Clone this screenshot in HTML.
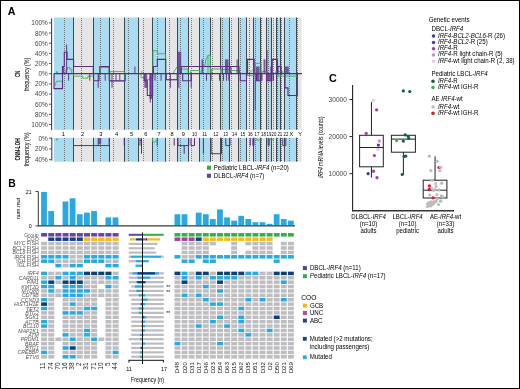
<!DOCTYPE html>
<html><head><meta charset="utf-8"><style>
html,body{margin:0;padding:0;background:#fff;}
svg{display:block;will-change:transform;}
text{font-family:"Liberation Sans", sans-serif;}
</style></head><body>
<svg width="520" height="389" viewBox="0 0 520 389" font-family='"Liberation Sans", sans-serif'>
<rect width="520" height="389" fill="#fff"/>
<text x="7.70" y="14.60" font-size="10.7" fill="#000" font-weight="bold">A</text>
<rect x="54.00" y="17.50" width="19.92" height="112.30" fill="#a9dbf1"/>
<rect x="73.92" y="17.50" width="19.44" height="112.30" fill="#e5e5e5"/>
<rect x="93.37" y="17.50" width="15.84" height="112.30" fill="#a9dbf1"/>
<rect x="109.21" y="17.50" width="15.28" height="112.30" fill="#e5e5e5"/>
<rect x="124.50" y="17.50" width="14.48" height="112.30" fill="#a9dbf1"/>
<rect x="138.98" y="17.50" width="13.68" height="112.30" fill="#e5e5e5"/>
<rect x="152.66" y="17.50" width="12.72" height="112.30" fill="#a9dbf1"/>
<rect x="165.39" y="17.50" width="11.68" height="112.30" fill="#e5e5e5"/>
<rect x="177.07" y="17.50" width="11.28" height="112.30" fill="#a9dbf1"/>
<rect x="188.35" y="17.50" width="10.88" height="112.30" fill="#e5e5e5"/>
<rect x="199.24" y="17.50" width="10.80" height="112.30" fill="#a9dbf1"/>
<rect x="210.04" y="17.50" width="10.72" height="112.30" fill="#e5e5e5"/>
<rect x="220.76" y="17.50" width="9.20" height="112.30" fill="#a9dbf1"/>
<rect x="229.96" y="17.50" width="8.56" height="112.30" fill="#e5e5e5"/>
<rect x="238.52" y="17.50" width="8.24" height="112.30" fill="#a9dbf1"/>
<rect x="246.77" y="17.50" width="7.20" height="112.30" fill="#e5e5e5"/>
<rect x="253.97" y="17.50" width="6.48" height="112.30" fill="#a9dbf1"/>
<rect x="260.45" y="17.50" width="6.24" height="112.30" fill="#e5e5e5"/>
<rect x="266.69" y="17.50" width="4.72" height="112.30" fill="#a9dbf1"/>
<rect x="271.41" y="17.50" width="5.04" height="112.30" fill="#e5e5e5"/>
<rect x="276.45" y="17.50" width="3.84" height="112.30" fill="#a9dbf1"/>
<rect x="280.29" y="17.50" width="4.08" height="112.30" fill="#e5e5e5"/>
<rect x="284.38" y="17.50" width="12.40" height="112.30" fill="#a9dbf1"/>
<rect x="296.78" y="17.50" width="4.72" height="112.30" fill="#e5e5e5"/>
<line x1="64.50" y1="18.00" x2="64.50" y2="129.80" stroke="#5a5a5a" stroke-width="0.8" stroke-dasharray="1 1"/>
<line x1="81.50" y1="18.00" x2="81.50" y2="129.80" stroke="#5a5a5a" stroke-width="0.8" stroke-dasharray="1 1"/>
<line x1="100.50" y1="18.00" x2="100.50" y2="129.80" stroke="#5a5a5a" stroke-width="0.8" stroke-dasharray="1 1"/>
<line x1="113.50" y1="18.00" x2="113.50" y2="129.80" stroke="#5a5a5a" stroke-width="0.8" stroke-dasharray="1 1"/>
<line x1="128.50" y1="18.00" x2="128.50" y2="129.80" stroke="#5a5a5a" stroke-width="0.8" stroke-dasharray="1 1"/>
<line x1="143.50" y1="18.00" x2="143.50" y2="129.80" stroke="#5a5a5a" stroke-width="0.8" stroke-dasharray="1 1"/>
<line x1="157.50" y1="18.00" x2="157.50" y2="129.80" stroke="#5a5a5a" stroke-width="0.8" stroke-dasharray="1 1"/>
<line x1="169.50" y1="18.00" x2="169.50" y2="129.80" stroke="#5a5a5a" stroke-width="0.8" stroke-dasharray="1 1"/>
<line x1="180.50" y1="18.00" x2="180.50" y2="129.80" stroke="#5a5a5a" stroke-width="0.8" stroke-dasharray="1 1"/>
<line x1="191.50" y1="18.00" x2="191.50" y2="129.80" stroke="#5a5a5a" stroke-width="0.8" stroke-dasharray="1 1"/>
<line x1="203.50" y1="18.00" x2="203.50" y2="129.80" stroke="#5a5a5a" stroke-width="0.8" stroke-dasharray="1 1"/>
<line x1="212.50" y1="18.00" x2="212.50" y2="129.80" stroke="#5a5a5a" stroke-width="0.8" stroke-dasharray="1 1"/>
<line x1="222.50" y1="18.00" x2="222.50" y2="129.80" stroke="#5a5a5a" stroke-width="0.8" stroke-dasharray="1 1"/>
<line x1="231.50" y1="18.00" x2="231.50" y2="129.80" stroke="#5a5a5a" stroke-width="0.8" stroke-dasharray="1 1"/>
<line x1="240.50" y1="18.00" x2="240.50" y2="129.80" stroke="#5a5a5a" stroke-width="0.8" stroke-dasharray="1 1"/>
<line x1="249.50" y1="18.00" x2="249.50" y2="129.80" stroke="#5a5a5a" stroke-width="0.8" stroke-dasharray="1 1"/>
<line x1="255.50" y1="18.00" x2="255.50" y2="129.80" stroke="#5a5a5a" stroke-width="0.8" stroke-dasharray="1 1"/>
<line x1="261.50" y1="18.00" x2="261.50" y2="129.80" stroke="#5a5a5a" stroke-width="0.8" stroke-dasharray="1 1"/>
<line x1="268.50" y1="18.00" x2="268.50" y2="129.80" stroke="#5a5a5a" stroke-width="0.8" stroke-dasharray="1 1"/>
<line x1="273.50" y1="18.00" x2="273.50" y2="129.80" stroke="#5a5a5a" stroke-width="0.8" stroke-dasharray="1 1"/>
<line x1="277.50" y1="18.00" x2="277.50" y2="129.80" stroke="#5a5a5a" stroke-width="0.8" stroke-dasharray="1 1"/>
<line x1="281.50" y1="18.00" x2="281.50" y2="129.80" stroke="#5a5a5a" stroke-width="0.8" stroke-dasharray="1 1"/>
<line x1="289.50" y1="18.00" x2="289.50" y2="129.80" stroke="#5a5a5a" stroke-width="0.8" stroke-dasharray="1 1"/>
<line x1="297.50" y1="18.00" x2="297.50" y2="129.80" stroke="#5a5a5a" stroke-width="0.8" stroke-dasharray="1 1"/>
<line x1="73.50" y1="17.50" x2="73.50" y2="129.80" stroke="#3e4850" stroke-width="1.0"/>
<line x1="93.50" y1="17.50" x2="93.50" y2="129.80" stroke="#3e4850" stroke-width="1.0"/>
<line x1="109.50" y1="17.50" x2="109.50" y2="129.80" stroke="#3e4850" stroke-width="1.0"/>
<line x1="124.50" y1="17.50" x2="124.50" y2="129.80" stroke="#3e4850" stroke-width="1.0"/>
<line x1="138.50" y1="17.50" x2="138.50" y2="129.80" stroke="#3e4850" stroke-width="1.0"/>
<line x1="152.50" y1="17.50" x2="152.50" y2="129.80" stroke="#3e4850" stroke-width="1.0"/>
<line x1="165.50" y1="17.50" x2="165.50" y2="129.80" stroke="#3e4850" stroke-width="1.0"/>
<line x1="177.50" y1="17.50" x2="177.50" y2="129.80" stroke="#3e4850" stroke-width="1.0"/>
<line x1="188.50" y1="17.50" x2="188.50" y2="129.80" stroke="#3e4850" stroke-width="1.0"/>
<line x1="199.50" y1="17.50" x2="199.50" y2="129.80" stroke="#3e4850" stroke-width="1.0"/>
<line x1="210.50" y1="17.50" x2="210.50" y2="129.80" stroke="#3e4850" stroke-width="1.0"/>
<line x1="220.50" y1="17.50" x2="220.50" y2="129.80" stroke="#3e4850" stroke-width="1.0"/>
<line x1="229.50" y1="17.50" x2="229.50" y2="129.80" stroke="#3e4850" stroke-width="1.0"/>
<line x1="238.50" y1="17.50" x2="238.50" y2="129.80" stroke="#3e4850" stroke-width="1.0"/>
<line x1="246.50" y1="17.50" x2="246.50" y2="129.80" stroke="#3e4850" stroke-width="1.0"/>
<line x1="253.50" y1="17.50" x2="253.50" y2="129.80" stroke="#3e4850" stroke-width="1.0"/>
<line x1="260.50" y1="17.50" x2="260.50" y2="129.80" stroke="#3e4850" stroke-width="1.0"/>
<line x1="266.50" y1="17.50" x2="266.50" y2="129.80" stroke="#3e4850" stroke-width="1.0"/>
<line x1="271.50" y1="17.50" x2="271.50" y2="129.80" stroke="#3e4850" stroke-width="1.0"/>
<line x1="276.50" y1="17.50" x2="276.50" y2="129.80" stroke="#3e4850" stroke-width="1.0"/>
<line x1="280.50" y1="17.50" x2="280.50" y2="129.80" stroke="#3e4850" stroke-width="1.0"/>
<line x1="284.50" y1="17.50" x2="284.50" y2="129.80" stroke="#3e4850" stroke-width="1.0"/>
<line x1="296.50" y1="17.50" x2="296.50" y2="129.80" stroke="#3e4850" stroke-width="1.0"/>
<rect x="54.00" y="137.80" width="19.92" height="23.90" fill="#a9dbf1"/>
<rect x="73.92" y="137.80" width="19.44" height="23.90" fill="#e5e5e5"/>
<rect x="93.37" y="137.80" width="15.84" height="23.90" fill="#a9dbf1"/>
<rect x="109.21" y="137.80" width="15.28" height="23.90" fill="#e5e5e5"/>
<rect x="124.50" y="137.80" width="14.48" height="23.90" fill="#a9dbf1"/>
<rect x="138.98" y="137.80" width="13.68" height="23.90" fill="#e5e5e5"/>
<rect x="152.66" y="137.80" width="12.72" height="23.90" fill="#a9dbf1"/>
<rect x="165.39" y="137.80" width="11.68" height="23.90" fill="#e5e5e5"/>
<rect x="177.07" y="137.80" width="11.28" height="23.90" fill="#a9dbf1"/>
<rect x="188.35" y="137.80" width="10.88" height="23.90" fill="#e5e5e5"/>
<rect x="199.24" y="137.80" width="10.80" height="23.90" fill="#a9dbf1"/>
<rect x="210.04" y="137.80" width="10.72" height="23.90" fill="#e5e5e5"/>
<rect x="220.76" y="137.80" width="9.20" height="23.90" fill="#a9dbf1"/>
<rect x="229.96" y="137.80" width="8.56" height="23.90" fill="#e5e5e5"/>
<rect x="238.52" y="137.80" width="8.24" height="23.90" fill="#a9dbf1"/>
<rect x="246.77" y="137.80" width="7.20" height="23.90" fill="#e5e5e5"/>
<rect x="253.97" y="137.80" width="6.48" height="23.90" fill="#a9dbf1"/>
<rect x="260.45" y="137.80" width="6.24" height="23.90" fill="#e5e5e5"/>
<rect x="266.69" y="137.80" width="4.72" height="23.90" fill="#a9dbf1"/>
<rect x="271.41" y="137.80" width="5.04" height="23.90" fill="#e5e5e5"/>
<rect x="276.45" y="137.80" width="3.84" height="23.90" fill="#a9dbf1"/>
<rect x="280.29" y="137.80" width="4.08" height="23.90" fill="#e5e5e5"/>
<rect x="284.38" y="137.80" width="12.40" height="23.90" fill="#a9dbf1"/>
<rect x="296.78" y="137.80" width="4.72" height="23.90" fill="#e5e5e5"/>
<line x1="64.50" y1="138.00" x2="64.50" y2="161.70" stroke="#5a5a5a" stroke-width="0.8" stroke-dasharray="1 1"/>
<line x1="81.50" y1="138.00" x2="81.50" y2="161.70" stroke="#5a5a5a" stroke-width="0.8" stroke-dasharray="1 1"/>
<line x1="100.50" y1="138.00" x2="100.50" y2="161.70" stroke="#5a5a5a" stroke-width="0.8" stroke-dasharray="1 1"/>
<line x1="113.50" y1="138.00" x2="113.50" y2="161.70" stroke="#5a5a5a" stroke-width="0.8" stroke-dasharray="1 1"/>
<line x1="128.50" y1="138.00" x2="128.50" y2="161.70" stroke="#5a5a5a" stroke-width="0.8" stroke-dasharray="1 1"/>
<line x1="143.50" y1="138.00" x2="143.50" y2="161.70" stroke="#5a5a5a" stroke-width="0.8" stroke-dasharray="1 1"/>
<line x1="157.50" y1="138.00" x2="157.50" y2="161.70" stroke="#5a5a5a" stroke-width="0.8" stroke-dasharray="1 1"/>
<line x1="169.50" y1="138.00" x2="169.50" y2="161.70" stroke="#5a5a5a" stroke-width="0.8" stroke-dasharray="1 1"/>
<line x1="180.50" y1="138.00" x2="180.50" y2="161.70" stroke="#5a5a5a" stroke-width="0.8" stroke-dasharray="1 1"/>
<line x1="191.50" y1="138.00" x2="191.50" y2="161.70" stroke="#5a5a5a" stroke-width="0.8" stroke-dasharray="1 1"/>
<line x1="203.50" y1="138.00" x2="203.50" y2="161.70" stroke="#5a5a5a" stroke-width="0.8" stroke-dasharray="1 1"/>
<line x1="212.50" y1="138.00" x2="212.50" y2="161.70" stroke="#5a5a5a" stroke-width="0.8" stroke-dasharray="1 1"/>
<line x1="222.50" y1="138.00" x2="222.50" y2="161.70" stroke="#5a5a5a" stroke-width="0.8" stroke-dasharray="1 1"/>
<line x1="231.50" y1="138.00" x2="231.50" y2="161.70" stroke="#5a5a5a" stroke-width="0.8" stroke-dasharray="1 1"/>
<line x1="240.50" y1="138.00" x2="240.50" y2="161.70" stroke="#5a5a5a" stroke-width="0.8" stroke-dasharray="1 1"/>
<line x1="249.50" y1="138.00" x2="249.50" y2="161.70" stroke="#5a5a5a" stroke-width="0.8" stroke-dasharray="1 1"/>
<line x1="255.50" y1="138.00" x2="255.50" y2="161.70" stroke="#5a5a5a" stroke-width="0.8" stroke-dasharray="1 1"/>
<line x1="261.50" y1="138.00" x2="261.50" y2="161.70" stroke="#5a5a5a" stroke-width="0.8" stroke-dasharray="1 1"/>
<line x1="268.50" y1="138.00" x2="268.50" y2="161.70" stroke="#5a5a5a" stroke-width="0.8" stroke-dasharray="1 1"/>
<line x1="273.50" y1="138.00" x2="273.50" y2="161.70" stroke="#5a5a5a" stroke-width="0.8" stroke-dasharray="1 1"/>
<line x1="277.50" y1="138.00" x2="277.50" y2="161.70" stroke="#5a5a5a" stroke-width="0.8" stroke-dasharray="1 1"/>
<line x1="281.50" y1="138.00" x2="281.50" y2="161.70" stroke="#5a5a5a" stroke-width="0.8" stroke-dasharray="1 1"/>
<line x1="289.50" y1="138.00" x2="289.50" y2="161.70" stroke="#5a5a5a" stroke-width="0.8" stroke-dasharray="1 1"/>
<line x1="297.50" y1="138.00" x2="297.50" y2="161.70" stroke="#5a5a5a" stroke-width="0.8" stroke-dasharray="1 1"/>
<line x1="73.50" y1="137.80" x2="73.50" y2="161.70" stroke="#3e4850" stroke-width="1.0"/>
<line x1="93.50" y1="137.80" x2="93.50" y2="161.70" stroke="#3e4850" stroke-width="1.0"/>
<line x1="109.50" y1="137.80" x2="109.50" y2="161.70" stroke="#3e4850" stroke-width="1.0"/>
<line x1="124.50" y1="137.80" x2="124.50" y2="161.70" stroke="#3e4850" stroke-width="1.0"/>
<line x1="138.50" y1="137.80" x2="138.50" y2="161.70" stroke="#3e4850" stroke-width="1.0"/>
<line x1="152.50" y1="137.80" x2="152.50" y2="161.70" stroke="#3e4850" stroke-width="1.0"/>
<line x1="165.50" y1="137.80" x2="165.50" y2="161.70" stroke="#3e4850" stroke-width="1.0"/>
<line x1="177.50" y1="137.80" x2="177.50" y2="161.70" stroke="#3e4850" stroke-width="1.0"/>
<line x1="188.50" y1="137.80" x2="188.50" y2="161.70" stroke="#3e4850" stroke-width="1.0"/>
<line x1="199.50" y1="137.80" x2="199.50" y2="161.70" stroke="#3e4850" stroke-width="1.0"/>
<line x1="210.50" y1="137.80" x2="210.50" y2="161.70" stroke="#3e4850" stroke-width="1.0"/>
<line x1="220.50" y1="137.80" x2="220.50" y2="161.70" stroke="#3e4850" stroke-width="1.0"/>
<line x1="229.50" y1="137.80" x2="229.50" y2="161.70" stroke="#3e4850" stroke-width="1.0"/>
<line x1="238.50" y1="137.80" x2="238.50" y2="161.70" stroke="#3e4850" stroke-width="1.0"/>
<line x1="246.50" y1="137.80" x2="246.50" y2="161.70" stroke="#3e4850" stroke-width="1.0"/>
<line x1="253.50" y1="137.80" x2="253.50" y2="161.70" stroke="#3e4850" stroke-width="1.0"/>
<line x1="260.50" y1="137.80" x2="260.50" y2="161.70" stroke="#3e4850" stroke-width="1.0"/>
<line x1="266.50" y1="137.80" x2="266.50" y2="161.70" stroke="#3e4850" stroke-width="1.0"/>
<line x1="271.50" y1="137.80" x2="271.50" y2="161.70" stroke="#3e4850" stroke-width="1.0"/>
<line x1="276.50" y1="137.80" x2="276.50" y2="161.70" stroke="#3e4850" stroke-width="1.0"/>
<line x1="280.50" y1="137.80" x2="280.50" y2="161.70" stroke="#3e4850" stroke-width="1.0"/>
<line x1="284.50" y1="137.80" x2="284.50" y2="161.70" stroke="#3e4850" stroke-width="1.0"/>
<line x1="296.50" y1="137.80" x2="296.50" y2="161.70" stroke="#3e4850" stroke-width="1.0"/>
<line x1="51.60" y1="18.40" x2="51.60" y2="130.20" stroke="#444" stroke-width="1.1"/>
<line x1="49.00" y1="22.90" x2="51.60" y2="22.90" stroke="#444" stroke-width="0.9"/>
<text x="47.70" y="25.35" font-size="6.4" text-anchor="end" fill="#444">100%</text>
<line x1="49.00" y1="33.06" x2="51.60" y2="33.06" stroke="#444" stroke-width="0.9"/>
<text x="47.70" y="35.51" font-size="6.4" text-anchor="end" fill="#444">80%</text>
<line x1="49.00" y1="43.22" x2="51.60" y2="43.22" stroke="#444" stroke-width="0.9"/>
<text x="47.70" y="45.67" font-size="6.4" text-anchor="end" fill="#444">60%</text>
<line x1="49.00" y1="53.38" x2="51.60" y2="53.38" stroke="#444" stroke-width="0.9"/>
<text x="47.70" y="55.83" font-size="6.4" text-anchor="end" fill="#444">40%</text>
<line x1="49.00" y1="63.54" x2="51.60" y2="63.54" stroke="#444" stroke-width="0.9"/>
<text x="47.70" y="65.99" font-size="6.4" text-anchor="end" fill="#444">20%</text>
<line x1="49.00" y1="73.70" x2="51.60" y2="73.70" stroke="#444" stroke-width="0.9"/>
<text x="47.70" y="76.15" font-size="6.4" text-anchor="end" fill="#444">0%</text>
<line x1="49.00" y1="83.86" x2="51.60" y2="83.86" stroke="#444" stroke-width="0.9"/>
<text x="47.70" y="86.31" font-size="6.4" text-anchor="end" fill="#444">20%</text>
<line x1="49.00" y1="94.02" x2="51.60" y2="94.02" stroke="#444" stroke-width="0.9"/>
<text x="47.70" y="96.47" font-size="6.4" text-anchor="end" fill="#444">40%</text>
<line x1="49.00" y1="104.18" x2="51.60" y2="104.18" stroke="#444" stroke-width="0.9"/>
<text x="47.70" y="106.63" font-size="6.4" text-anchor="end" fill="#444">60%</text>
<line x1="49.00" y1="114.34" x2="51.60" y2="114.34" stroke="#444" stroke-width="0.9"/>
<text x="47.70" y="116.79" font-size="6.4" text-anchor="end" fill="#444">80%</text>
<line x1="49.00" y1="124.50" x2="51.60" y2="124.50" stroke="#444" stroke-width="0.9"/>
<text x="47.70" y="126.95" font-size="6.4" text-anchor="end" fill="#444">100%</text>
<line x1="51.80" y1="137.60" x2="51.80" y2="160.60" stroke="#444" stroke-width="1.1"/>
<line x1="49.00" y1="138.20" x2="51.80" y2="138.20" stroke="#444" stroke-width="0.9"/>
<text x="47.70" y="140.65" font-size="6.4" text-anchor="end" fill="#444">0%</text>
<line x1="49.00" y1="148.95" x2="51.80" y2="148.95" stroke="#444" stroke-width="0.9"/>
<text x="47.70" y="151.40" font-size="6.4" text-anchor="end" fill="#444">20%</text>
<line x1="49.00" y1="159.70" x2="51.80" y2="159.70" stroke="#444" stroke-width="0.9"/>
<text x="47.70" y="162.15" font-size="6.4" text-anchor="end" fill="#444">40%</text>
<text x="20.10" y="74.00" font-size="7.6" text-anchor="middle" font-weight="bold" textLength="6.1" lengthAdjust="spacingAndGlyphs" transform="rotate(-90 20.10 74.00)">CN</text>
<text x="29.20" y="74.30" font-size="6.6" text-anchor="middle" textLength="33.4" lengthAdjust="spacingAndGlyphs" transform="rotate(-90 29.20 74.30)">frequency (%)</text>
<text x="19.80" y="149.35" font-size="7.4" text-anchor="middle" font-weight="bold" textLength="22.1" lengthAdjust="spacingAndGlyphs" transform="rotate(-90 19.80 149.35)">CNN-LOH</text>
<text x="29.20" y="149.40" font-size="6.6" text-anchor="middle" textLength="33.8" lengthAdjust="spacingAndGlyphs" transform="rotate(-90 29.20 149.40)">frequency (%)</text>
<text x="63.25" y="136.20" font-size="5.6" text-anchor="middle">1</text>
<text x="82.50" y="136.20" font-size="5.6" text-anchor="middle">2</text>
<text x="100.75" y="136.20" font-size="5.6" text-anchor="middle">3</text>
<text x="116.50" y="136.20" font-size="5.6" text-anchor="middle">4</text>
<text x="131.50" y="136.20" font-size="5.6" text-anchor="middle">5</text>
<text x="145.75" y="136.20" font-size="5.6" text-anchor="middle">6</text>
<text x="159.00" y="136.20" font-size="5.6" text-anchor="middle">7</text>
<text x="172.00" y="136.20" font-size="5.6" text-anchor="middle">8</text>
<text x="183.40" y="136.20" font-size="5.6" text-anchor="middle">9</text>
<text x="194.50" y="136.20" font-size="5.6" text-anchor="middle" textLength="4.8" lengthAdjust="spacingAndGlyphs">10</text>
<text x="204.60" y="136.20" font-size="5.6" text-anchor="middle" textLength="4.8" lengthAdjust="spacingAndGlyphs">11</text>
<text x="216.00" y="136.20" font-size="5.6" text-anchor="middle" textLength="4.8" lengthAdjust="spacingAndGlyphs">12</text>
<text x="225.60" y="136.20" font-size="5.6" text-anchor="middle" textLength="4.8" lengthAdjust="spacingAndGlyphs">13</text>
<text x="234.40" y="136.20" font-size="5.6" text-anchor="middle" textLength="4.8" lengthAdjust="spacingAndGlyphs">14</text>
<text x="242.80" y="136.20" font-size="5.6" text-anchor="middle" textLength="4.8" lengthAdjust="spacingAndGlyphs">15</text>
<text x="250.30" y="136.20" font-size="5.6" text-anchor="middle" textLength="4.8" lengthAdjust="spacingAndGlyphs">16</text>
<text x="257.00" y="136.20" font-size="5.6" text-anchor="middle" textLength="4.8" lengthAdjust="spacingAndGlyphs">17</text>
<text x="263.50" y="136.20" font-size="5.6" text-anchor="middle" textLength="4.8" lengthAdjust="spacingAndGlyphs">18</text>
<text x="268.90" y="136.20" font-size="5.6" text-anchor="middle" textLength="4.8" lengthAdjust="spacingAndGlyphs">19</text>
<text x="274.00" y="136.20" font-size="5.6" text-anchor="middle" textLength="4.8" lengthAdjust="spacingAndGlyphs">20</text>
<text x="279.80" y="136.20" font-size="5.6" text-anchor="middle" textLength="4.8" lengthAdjust="spacingAndGlyphs">21</text>
<text x="286.00" y="136.20" font-size="5.6" text-anchor="middle" textLength="4.8" lengthAdjust="spacingAndGlyphs">22</text>
<text x="291.40" y="136.20" font-size="5.6" text-anchor="middle">X</text>
<text x="300.10" y="136.20" font-size="5.6" text-anchor="middle">Y</text>
<path d="M65.90,73.60 L65.90,69.53 L67.50,69.53 L67.50,67.50 L69.50,67.50 L69.50,69.02 L71.70,69.02 L71.70,73.60 M100.50,73.60 L100.50,67.50 L109.00,67.50 L109.00,73.60 M109.80,73.60 L109.80,71.57 L124.40,71.57 L124.40,73.60 M153.00,73.60 L153.00,50.72 L157.30,50.72 L157.30,53.77 L165.70,53.77 L165.70,73.60 M181.20,73.60 L181.20,69.02 L188.00,69.02 L188.00,73.60 M190.50,73.60 L190.50,70.55 L200.00,70.55 L200.00,73.60 M208.00,73.60 L208.00,55.29 L210.30,55.29 L210.30,73.60 M211.50,73.60 L211.50,69.02 L220.50,69.02 L220.50,73.60 M221.00,73.60 L221.00,69.53 L230.00,69.53 L230.00,73.60 M230.50,73.60 L230.50,70.55 L239.50,70.55 L239.50,73.60 M255.50,73.60 L255.50,63.43 L261.10,63.43 L261.10,73.60 M262.00,73.60 L262.00,71.57 L267.30,71.57 L267.30,73.60 M275.80,73.60 L275.80,71.57 L282.70,71.57 L282.70,73.60" fill="none" stroke="#3db54a" stroke-width="0.9" stroke-linejoin="miter"/>
<path d="M172.7,73.60 L177.3,66.48 L181.2,66.48" fill="none" stroke="#3db54a" stroke-width="0.9"/>
<path d="M201.9,71.57 L203.4,65.46 L204.9,65.46 L205.7,59.87 L208,55.29" fill="none" stroke="#3db54a" stroke-width="0.9"/>
<path d="M249.6,72.58 L251,71.57 L253.5,69.02 L254.5,69.02" fill="none" stroke="#3db54a" stroke-width="0.9"/>
<line x1="56.60" y1="73.60" x2="56.60" y2="71.06" stroke="#3db54a" stroke-width="0.9"/>
<line x1="141.90" y1="73.60" x2="141.90" y2="71.06" stroke="#3db54a" stroke-width="0.9"/>
<line x1="57.50" y1="73.60" x2="57.50" y2="71.57" stroke="#3db54a" stroke-width="0.9"/>
<path d="M54.6,86.31 L56.6,81.23 L62.5,81.23 L62.5,73.60" fill="none" stroke="#3db54a" stroke-width="0.9"/>
<path d="M73.60,73.60 L73.60,76.14 L82.80,76.14 L82.80,78.18 L88.00,78.18 L88.00,76.14 L93.30,76.14 L93.30,73.60 M109.80,73.60 L109.80,81.23 L124.40,81.23 L124.40,73.60 M141.00,73.60 L141.00,77.67 L144.20,77.67 L144.20,79.70 L149.50,79.70 L149.50,77.67 L153.00,77.67 L153.00,73.60 M166.20,73.60 L166.20,79.70 L177.30,79.70 L177.30,73.60 M247.30,73.60 L247.30,75.63 L254.20,75.63 L254.20,73.60 M278.00,73.60 L278.00,76.14 L297.30,76.14 L297.30,73.60" fill="none" stroke="#3db54a" stroke-width="0.9" stroke-linejoin="miter"/>
<path d="M62.50,73.60 L62.50,66.48 L64.30,66.48 L64.30,52.24 L67.10,52.24 L67.10,59.36 L73.60,59.36 L73.60,66.48 L93.30,66.48 L93.30,73.60 M99.80,73.60 L99.80,66.48 L109.30,66.48 L109.30,73.60 M153.40,73.60 L153.40,66.48 L157.30,66.48 L157.30,59.36 L165.70,59.36 L165.70,73.60 M181.20,73.60 L181.20,66.48 L239.00,66.48 L239.00,73.60 M247.60,73.60 L247.60,59.36 L254.20,59.36 L254.20,73.60 M272.20,73.60 L272.20,59.36 L277.30,59.36 L277.30,73.60 M278.00,73.60 L278.00,66.48 L281.10,66.48 L281.10,73.60" fill="none" stroke="#5e2a84" stroke-width="1.1" stroke-linejoin="miter"/>
<line x1="66.60" y1="73.60" x2="66.60" y2="44.62" stroke="#5e2a84" stroke-width="0.9"/>
<line x1="134.90" y1="73.60" x2="134.90" y2="66.48" stroke="#5e2a84" stroke-width="0.9"/>
<line x1="267.00" y1="73.60" x2="267.00" y2="50.21" stroke="#5e2a84" stroke-width="0.9"/>
<line x1="222.30" y1="73.60" x2="222.30" y2="66.48" stroke="#5e2a84" stroke-width="0.9"/>
<line x1="229.80" y1="73.60" x2="229.80" y2="66.48" stroke="#5e2a84" stroke-width="0.9"/>
<line x1="230.90" y1="73.60" x2="230.90" y2="66.48" stroke="#5e2a84" stroke-width="0.9"/>
<rect x="62.60" y="66.48" width="1.60" height="7.12" fill="#5e2a84" fill-opacity="0.75"/>
<rect x="177.30" y="51.73" width="3.90" height="21.87" fill="#5e2a84" fill-opacity="0.75"/>
<rect x="201.50" y="59.36" width="1.70" height="14.24" fill="#5e2a84" fill-opacity="0.75"/>
<rect x="225.00" y="59.36" width="3.50" height="14.24" fill="#5e2a84" fill-opacity="0.75"/>
<rect x="236.50" y="59.36" width="1.30" height="14.24" fill="#5e2a84" fill-opacity="0.75"/>
<rect x="256.00" y="66.48" width="3.60" height="7.12" fill="#5e2a84" fill-opacity="0.75"/>
<rect x="263.50" y="59.36" width="2.00" height="14.24" fill="#5e2a84" fill-opacity="0.75"/>
<rect x="270.30" y="66.48" width="1.70" height="7.12" fill="#5e2a84" fill-opacity="0.75"/>
<rect x="285.00" y="66.48" width="3.80" height="7.12" fill="#5e2a84" fill-opacity="0.75"/>
<path d="M54.00,73.60 L54.00,88.60 L62.50,88.60 L62.50,73.60 M93.60,73.60 L93.60,80.72 L99.00,80.72 L99.00,73.60 M109.30,73.60 L109.30,80.72 L125.20,80.72 L125.20,73.60 M144.20,73.60 L144.20,80.72 L147.30,80.72 L147.30,95.47 L152.60,95.47 L152.60,73.60 M166.20,73.60 L166.20,79.70 L177.30,79.70 L177.30,73.60 M182.70,73.60 L182.70,80.72 L191.20,80.72 L191.20,73.60 M240.30,73.60 L240.30,80.72 L246.50,80.72 L246.50,73.60 M256.50,73.60 L256.50,80.72 L261.10,80.72 L261.10,73.60 M266.50,73.60 L266.50,80.72 L272.00,80.72 L272.00,73.60 M285.00,73.60 L285.00,87.84 L288.00,87.84 L288.00,95.47 L297.30,95.47 L297.30,73.60" fill="none" stroke="#5e2a84" stroke-width="1.1" stroke-linejoin="miter"/>
<line x1="68.60" y1="73.60" x2="68.60" y2="80.72" stroke="#5e2a84" stroke-width="0.9"/>
<line x1="89.80" y1="73.60" x2="89.80" y2="80.72" stroke="#5e2a84" stroke-width="0.9"/>
<line x1="98.20" y1="73.60" x2="98.20" y2="87.84" stroke="#5e2a84" stroke-width="0.9"/>
<line x1="105.20" y1="73.60" x2="105.20" y2="80.72" stroke="#5e2a84" stroke-width="0.9"/>
<line x1="112.00" y1="73.60" x2="112.00" y2="87.84" stroke="#5e2a84" stroke-width="0.9"/>
<line x1="116.00" y1="73.60" x2="116.00" y2="80.72" stroke="#5e2a84" stroke-width="0.9"/>
<line x1="119.80" y1="73.60" x2="119.80" y2="80.72" stroke="#5e2a84" stroke-width="0.9"/>
<line x1="150.30" y1="73.60" x2="150.30" y2="102.58" stroke="#5e2a84" stroke-width="0.9"/>
<line x1="155.00" y1="73.60" x2="155.00" y2="80.72" stroke="#5e2a84" stroke-width="0.9"/>
<line x1="161.10" y1="73.60" x2="161.10" y2="80.72" stroke="#5e2a84" stroke-width="0.9"/>
<line x1="170.40" y1="73.60" x2="170.40" y2="87.84" stroke="#5e2a84" stroke-width="0.9"/>
<line x1="178.80" y1="73.60" x2="178.80" y2="87.84" stroke="#5e2a84" stroke-width="0.9"/>
<line x1="191.20" y1="73.60" x2="191.20" y2="87.84" stroke="#5e2a84" stroke-width="0.9"/>
<line x1="206.50" y1="73.60" x2="206.50" y2="80.72" stroke="#5e2a84" stroke-width="0.9"/>
<line x1="211.00" y1="73.60" x2="211.00" y2="80.72" stroke="#5e2a84" stroke-width="0.9"/>
<line x1="219.50" y1="73.60" x2="219.50" y2="80.72" stroke="#5e2a84" stroke-width="0.9"/>
<line x1="223.50" y1="73.60" x2="223.50" y2="80.72" stroke="#5e2a84" stroke-width="0.9"/>
<line x1="226.50" y1="73.60" x2="226.50" y2="80.72" stroke="#5e2a84" stroke-width="0.9"/>
<line x1="228.80" y1="73.60" x2="228.80" y2="80.72" stroke="#5e2a84" stroke-width="0.9"/>
<line x1="246.50" y1="73.60" x2="246.50" y2="87.84" stroke="#5e2a84" stroke-width="0.9"/>
<line x1="255.20" y1="73.60" x2="255.20" y2="110.21" stroke="#5e2a84" stroke-width="0.9"/>
<line x1="262.00" y1="73.60" x2="262.00" y2="80.72" stroke="#5e2a84" stroke-width="0.9"/>
<line x1="273.50" y1="73.60" x2="273.50" y2="80.72" stroke="#5e2a84" stroke-width="0.9"/>
<line x1="276.50" y1="73.60" x2="276.50" y2="80.72" stroke="#5e2a84" stroke-width="0.9"/>
<rect x="144.30" y="73.60" width="2.90" height="14.24" fill="#5e2a84" fill-opacity="0.75"/>
<rect x="149.50" y="73.60" width="2.80" height="25.42" fill="#5e2a84" fill-opacity="0.75"/>
<rect x="256.00" y="73.60" width="3.60" height="7.12" fill="#5e2a84" fill-opacity="0.75"/>
<rect x="266.60" y="73.60" width="4.90" height="7.12" fill="#5e2a84" fill-opacity="0.75"/>
<line x1="53.80" y1="73.60" x2="302.00" y2="73.60" stroke="#5e2a84" stroke-width="1.1"/>
<path d="M73.50,138.20 L73.50,145.60 L109.20,145.60 L109.20,138.20" fill="none" stroke="#5e2a84" stroke-width="1.0"/>
<path d="M93.50,138.20 L93.50,145.60" fill="none" stroke="#5e2a84" stroke-width="1.0"/>
<path d="M98.20,138.20 L98.20,145.60" fill="none" stroke="#5e2a84" stroke-width="1.0"/>
<rect x="98.40" y="138.20" width="2.80" height="5.80" fill="#5e2a84" fill-opacity="0.75"/>
<path d="M124.30,138.20 L124.30,145.60" fill="none" stroke="#5e2a84" stroke-width="1.2"/>
<path d="M140.00,138.20 L140.00,145.60" fill="none" stroke="#5e2a84" stroke-width="1.0"/>
<path d="M140.00,140.50 L141.50,140.50" fill="none" stroke="#5e2a84" stroke-width="1.0"/>
<path d="M141.50,138.20 L141.50,153.70" fill="none" stroke="#5e2a84" stroke-width="1.0"/>
<path d="M152.60,138.20 L152.60,141.00 L154.00,142.50 L156.50,140.50" fill="none" stroke="#3db54a" stroke-width="0.9"/>
<path d="M157.20,138.20 L157.20,145.60" fill="none" stroke="#5e2a84" stroke-width="1.0"/>
<path d="M174.20,138.20 L174.20,145.60" fill="none" stroke="#5e2a84" stroke-width="1.0"/>
<path d="M178.00,138.20 L178.00,145.60 L188.80,145.60 L188.80,138.20" fill="none" stroke="#5e2a84" stroke-width="1.0"/>
<path d="M184.20,145.60 L184.20,153.70" fill="none" stroke="#5e2a84" stroke-width="1.0"/>
<path d="M191.00,138.20 L191.00,145.60 L194.50,145.60 L194.50,138.20" fill="none" stroke="#5e2a84" stroke-width="1.0"/>
<path d="M203.40,138.20 L203.40,153.70" fill="none" stroke="#5e2a84" stroke-width="1.0"/>
<path d="M211.10,138.20 L211.10,153.70 L221.50,153.70 L221.50,138.20" fill="none" stroke="#5e2a84" stroke-width="1.0"/>
<path d="M225.80,138.20 L225.80,145.60 L230.00,145.60 L230.00,138.20" fill="none" stroke="#5e2a84" stroke-width="1.0"/>
<path d="M250.30,138.20 L250.30,145.60" fill="none" stroke="#5e2a84" stroke-width="1.0"/>
<rect x="252.20" y="138.20" width="2.30" height="7.40" fill="#5e2a84" fill-opacity="0.75"/>
<path d="M256.20,138.20 L256.20,140.00 L261.50,140.00 L261.50,138.20" fill="none" stroke="#3db54a" stroke-width="0.9"/>
<rect x="267.60" y="138.20" width="2.30" height="7.40" fill="#5e2a84" fill-opacity="0.75"/>
<path d="M270.00,138.20 L270.00,140.00 L273.00,140.00 L273.00,138.20" fill="none" stroke="#3db54a" stroke-width="0.9"/>
<path d="M282.80,138.20 L282.80,145.60 L285.80,145.60 L285.80,138.20" fill="none" stroke="#5e2a84" stroke-width="1.0"/>
<rect x="56.30" y="138.60" width="1.50" height="1.90" fill="#3db54a"/>
<rect x="206.90" y="165.60" width="4.10" height="4.10" fill="#3aaa49"/>
<text x="213.80" y="170.00" font-size="6.6" textLength="75" lengthAdjust="spacingAndGlyphs">Pediatric LBCL-<tspan font-style="italic">IRF4</tspan> (n=20)</text>
<rect x="206.90" y="173.70" width="4.10" height="4.10" fill="#5e45a8"/>
<text x="213.80" y="177.50" font-size="6.6" textLength="50.6" lengthAdjust="spacingAndGlyphs">DLBCL-<tspan font-style="italic">IRF4</tspan> (n=7)</text>
<text x="8.30" y="186.80" font-size="10.4" fill="#000" font-weight="bold">B</text>
<rect x="41.10" y="191.91" width="5.80" height="33.49" fill="#29a9e0"/>
<rect x="48.25" y="211.05" width="5.80" height="14.36" fill="#29a9e0"/>
<rect x="62.55" y="201.47" width="5.80" height="23.93" fill="#29a9e0"/>
<rect x="69.70" y="198.28" width="5.80" height="27.11" fill="#29a9e0"/>
<rect x="76.85" y="214.24" width="5.80" height="11.16" fill="#29a9e0"/>
<rect x="84.00" y="212.64" width="5.80" height="12.76" fill="#29a9e0"/>
<rect x="91.15" y="211.05" width="5.80" height="14.36" fill="#29a9e0"/>
<rect x="105.45" y="217.43" width="5.80" height="7.97" fill="#29a9e0"/>
<rect x="112.60" y="217.43" width="5.80" height="7.97" fill="#29a9e0"/>
<rect x="174.50" y="214.24" width="5.80" height="11.16" fill="#29a9e0"/>
<rect x="181.59" y="214.24" width="5.80" height="11.16" fill="#29a9e0"/>
<rect x="195.77" y="212.64" width="5.80" height="12.76" fill="#29a9e0"/>
<rect x="202.86" y="214.24" width="5.80" height="11.16" fill="#29a9e0"/>
<rect x="209.95" y="219.02" width="5.80" height="6.38" fill="#29a9e0"/>
<rect x="217.04" y="209.45" width="5.80" height="15.95" fill="#29a9e0"/>
<rect x="224.13" y="217.43" width="5.80" height="7.97" fill="#29a9e0"/>
<rect x="231.22" y="220.62" width="5.80" height="4.79" fill="#29a9e0"/>
<rect x="238.31" y="215.83" width="5.80" height="9.57" fill="#29a9e0"/>
<rect x="245.40" y="219.02" width="5.80" height="6.38" fill="#29a9e0"/>
<rect x="252.49" y="222.21" width="5.80" height="3.19" fill="#29a9e0"/>
<rect x="259.58" y="222.21" width="5.80" height="3.19" fill="#29a9e0"/>
<rect x="266.67" y="223.81" width="5.80" height="1.59" fill="#29a9e0"/>
<rect x="273.76" y="214.24" width="5.80" height="11.16" fill="#29a9e0"/>
<rect x="280.85" y="219.02" width="5.80" height="6.38" fill="#29a9e0"/>
<rect x="287.94" y="220.62" width="5.80" height="4.79" fill="#29a9e0"/>
<line x1="38.30" y1="225.90" x2="295.00" y2="225.90" stroke="#3a3a3a" stroke-width="1.3"/>
<line x1="38.30" y1="191.50" x2="38.30" y2="226.50" stroke="#333" stroke-width="1.0"/>
<line x1="35.40" y1="191.50" x2="38.30" y2="191.50" stroke="#333" stroke-width="0.9"/>
<line x1="35.40" y1="225.90" x2="38.30" y2="225.90" stroke="#333" stroke-width="0.9"/>
<text x="31.60" y="193.70" font-size="5.3" text-anchor="end">21</text>
<text x="31.60" y="227.70" font-size="5.3" text-anchor="end">0</text>
<text x="19.60" y="208.60" font-size="5.5" text-anchor="middle" textLength="21.3" lengthAdjust="spacingAndGlyphs" transform="rotate(-90 19.60 208.60)">num.mut</text>
<rect x="41.10" y="233.05" width="6.00" height="3.50" fill="#6b41a3"/>
<rect x="48.25" y="233.05" width="6.00" height="3.50" fill="#6b41a3"/>
<rect x="55.40" y="233.05" width="6.00" height="3.50" fill="#6b41a3"/>
<rect x="62.55" y="233.05" width="6.00" height="3.50" fill="#6b41a3"/>
<rect x="69.70" y="233.05" width="6.00" height="3.50" fill="#6b41a3"/>
<rect x="76.85" y="233.05" width="6.00" height="3.50" fill="#6b41a3"/>
<rect x="84.00" y="233.05" width="6.00" height="3.50" fill="#6b41a3"/>
<rect x="91.15" y="233.05" width="6.00" height="3.50" fill="#6b41a3"/>
<rect x="98.30" y="233.05" width="6.00" height="3.50" fill="#6b41a3"/>
<rect x="105.45" y="233.05" width="6.00" height="3.50" fill="#6b41a3"/>
<rect x="112.60" y="233.05" width="6.00" height="3.50" fill="#6b41a3"/>
<rect x="48.25" y="237.45" width="6.00" height="3.50" fill="#0f4482"/>
<rect x="55.40" y="237.45" width="6.00" height="3.50" fill="#0f4482"/>
<rect x="62.55" y="237.45" width="6.00" height="3.50" fill="#0f4482"/>
<rect x="69.70" y="237.45" width="6.00" height="3.50" fill="#0f4482"/>
<rect x="76.85" y="237.45" width="6.00" height="3.50" fill="#0f4482"/>
<rect x="84.00" y="237.45" width="6.00" height="3.50" fill="#fdb813"/>
<rect x="91.15" y="237.45" width="6.00" height="3.50" fill="#fdb813"/>
<rect x="98.30" y="237.45" width="6.00" height="3.50" fill="#fdb813"/>
<rect x="105.45" y="237.45" width="6.00" height="3.50" fill="#fdb813"/>
<rect x="112.60" y="237.45" width="6.00" height="3.50" fill="#fdb813"/>
<rect x="41.10" y="241.85" width="6.00" height="3.50" fill="#bdbdc1"/>
<rect x="48.25" y="241.85" width="6.00" height="3.50" fill="#bdbdc1"/>
<rect x="55.40" y="241.85" width="6.00" height="3.50" fill="#bdbdc1"/>
<rect x="62.55" y="241.85" width="6.00" height="3.50" fill="#bdbdc1"/>
<rect x="69.70" y="241.85" width="6.00" height="3.50" fill="#bdbdc1"/>
<rect x="76.85" y="241.85" width="6.00" height="3.50" fill="#bdbdc1"/>
<rect x="84.00" y="241.85" width="6.00" height="3.50" fill="#bdbdc1"/>
<rect x="91.15" y="241.85" width="6.00" height="3.50" fill="#bdbdc1"/>
<rect x="98.30" y="241.85" width="6.00" height="3.50" fill="#bdbdc1"/>
<rect x="105.45" y="241.85" width="6.00" height="3.50" fill="#bdbdc1"/>
<rect x="112.60" y="241.85" width="6.00" height="3.50" fill="#bdbdc1"/>
<rect x="41.10" y="246.25" width="6.00" height="3.50" fill="#bdbdc1"/>
<rect x="48.25" y="246.25" width="6.00" height="3.50" fill="#bdbdc1"/>
<rect x="55.40" y="246.25" width="6.00" height="3.50" fill="#bdbdc1"/>
<rect x="62.55" y="246.25" width="6.00" height="3.50" fill="#bdbdc1"/>
<rect x="69.70" y="246.25" width="6.00" height="3.50" fill="#bdbdc1"/>
<rect x="76.85" y="246.25" width="6.00" height="3.50" fill="#bdbdc1"/>
<rect x="84.00" y="246.25" width="6.00" height="3.50" fill="#bdbdc1"/>
<rect x="91.15" y="246.25" width="6.00" height="3.50" fill="#bdbdc1"/>
<rect x="98.30" y="246.25" width="6.00" height="3.50" fill="#bdbdc1"/>
<rect x="105.45" y="246.25" width="6.00" height="3.50" fill="#bdbdc1"/>
<rect x="112.60" y="246.25" width="6.00" height="3.50" fill="#bdbdc1"/>
<rect x="41.10" y="250.65" width="6.00" height="3.50" fill="#bdbdc1"/>
<rect x="48.25" y="250.65" width="6.00" height="3.50" fill="#bdbdc1"/>
<rect x="55.40" y="250.65" width="6.00" height="3.50" fill="#bdbdc1"/>
<rect x="62.55" y="250.65" width="6.00" height="3.50" fill="#bdbdc1"/>
<rect x="69.70" y="250.65" width="6.00" height="3.50" fill="#bdbdc1"/>
<rect x="76.85" y="250.65" width="6.00" height="3.50" fill="#bdbdc1"/>
<rect x="84.00" y="250.65" width="6.00" height="3.50" fill="#bdbdc1"/>
<rect x="91.15" y="250.65" width="6.00" height="3.50" fill="#bdbdc1"/>
<rect x="98.30" y="250.65" width="6.00" height="3.50" fill="#bdbdc1"/>
<rect x="105.45" y="250.65" width="6.00" height="3.50" fill="#bdbdc1"/>
<rect x="112.60" y="250.65" width="6.00" height="3.50" fill="#bdbdc1"/>
<rect x="41.10" y="255.05" width="6.00" height="3.50" fill="#27a9e1"/>
<rect x="48.25" y="255.05" width="6.00" height="3.50" fill="#27a9e1"/>
<rect x="55.40" y="255.05" width="6.00" height="3.50" fill="#27a9e1"/>
<rect x="62.55" y="255.05" width="6.00" height="3.50" fill="#27a9e1"/>
<rect x="69.70" y="255.05" width="6.00" height="3.50" fill="#bdbdc1"/>
<rect x="76.85" y="255.05" width="6.00" height="3.50" fill="#bdbdc1"/>
<rect x="84.00" y="255.05" width="6.00" height="3.50" fill="#27a9e1"/>
<rect x="91.15" y="255.05" width="6.00" height="3.50" fill="#27a9e1"/>
<rect x="98.30" y="255.05" width="6.00" height="3.50" fill="#27a9e1"/>
<rect x="105.45" y="255.05" width="6.00" height="3.50" fill="#27a9e1"/>
<rect x="112.60" y="255.05" width="6.00" height="3.50" fill="#27a9e1"/>
<rect x="41.10" y="259.45" width="6.00" height="3.50" fill="#27a9e1"/>
<rect x="48.25" y="259.45" width="6.00" height="3.50" fill="#27a9e1"/>
<rect x="55.40" y="259.45" width="6.00" height="3.50" fill="#bdbdc1"/>
<rect x="62.55" y="259.45" width="6.00" height="3.50" fill="#bdbdc1"/>
<rect x="69.70" y="259.45" width="6.00" height="3.50" fill="#bdbdc1"/>
<rect x="76.85" y="259.45" width="6.00" height="3.50" fill="#bdbdc1"/>
<rect x="84.00" y="259.45" width="6.00" height="3.50" fill="#27a9e1"/>
<rect x="91.15" y="259.45" width="6.00" height="3.50" fill="#27a9e1"/>
<rect x="98.30" y="259.45" width="6.00" height="3.50" fill="#27a9e1"/>
<rect x="105.45" y="259.45" width="6.00" height="3.50" fill="#bdbdc1"/>
<rect x="112.60" y="259.45" width="6.00" height="3.50" fill="#bdbdc1"/>
<rect x="55.40" y="263.85" width="6.00" height="3.50" fill="#27a9e1"/>
<rect x="62.55" y="263.85" width="6.00" height="3.50" fill="#bdbdc1"/>
<rect x="69.70" y="263.85" width="6.00" height="3.50" fill="#27a9e1"/>
<rect x="76.85" y="263.85" width="6.00" height="3.50" fill="#27a9e1"/>
<rect x="105.45" y="263.85" width="6.00" height="3.50" fill="#27a9e1"/>
<rect x="112.60" y="263.85" width="6.00" height="3.50" fill="#27a9e1"/>
<rect x="174.50" y="233.05" width="5.90" height="3.50" fill="#33ae48"/>
<rect x="181.59" y="233.05" width="5.90" height="3.50" fill="#33ae48"/>
<rect x="188.68" y="233.05" width="5.90" height="3.50" fill="#33ae48"/>
<rect x="195.77" y="233.05" width="5.90" height="3.50" fill="#33ae48"/>
<rect x="202.86" y="233.05" width="5.90" height="3.50" fill="#33ae48"/>
<rect x="209.95" y="233.05" width="5.90" height="3.50" fill="#33ae48"/>
<rect x="217.04" y="233.05" width="5.90" height="3.50" fill="#33ae48"/>
<rect x="224.13" y="233.05" width="5.90" height="3.50" fill="#33ae48"/>
<rect x="231.22" y="233.05" width="5.90" height="3.50" fill="#33ae48"/>
<rect x="238.31" y="233.05" width="5.90" height="3.50" fill="#33ae48"/>
<rect x="245.40" y="233.05" width="5.90" height="3.50" fill="#33ae48"/>
<rect x="252.49" y="233.05" width="5.90" height="3.50" fill="#33ae48"/>
<rect x="259.58" y="233.05" width="5.90" height="3.50" fill="#33ae48"/>
<rect x="266.67" y="233.05" width="5.90" height="3.50" fill="#33ae48"/>
<rect x="273.76" y="233.05" width="5.90" height="3.50" fill="#33ae48"/>
<rect x="280.85" y="233.05" width="5.90" height="3.50" fill="#33ae48"/>
<rect x="287.94" y="233.05" width="5.90" height="3.50" fill="#33ae48"/>
<rect x="174.50" y="237.45" width="5.90" height="3.50" fill="#ab3fa1"/>
<rect x="181.59" y="237.45" width="5.90" height="3.50" fill="#ab3fa1"/>
<rect x="188.68" y="237.45" width="5.90" height="3.50" fill="#ab3fa1"/>
<rect x="195.77" y="237.45" width="5.90" height="3.50" fill="#0f4482"/>
<rect x="202.86" y="237.45" width="5.90" height="3.50" fill="#fdb813"/>
<rect x="209.95" y="237.45" width="5.90" height="3.50" fill="#fdb813"/>
<rect x="217.04" y="237.45" width="5.90" height="3.50" fill="#fdb813"/>
<rect x="224.13" y="237.45" width="5.90" height="3.50" fill="#fdb813"/>
<rect x="231.22" y="237.45" width="5.90" height="3.50" fill="#fdb813"/>
<rect x="238.31" y="237.45" width="5.90" height="3.50" fill="#fdb813"/>
<rect x="245.40" y="237.45" width="5.90" height="3.50" fill="#fdb813"/>
<rect x="252.49" y="237.45" width="5.90" height="3.50" fill="#fdb813"/>
<rect x="259.58" y="237.45" width="5.90" height="3.50" fill="#fdb813"/>
<rect x="266.67" y="237.45" width="5.90" height="3.50" fill="#fdb813"/>
<rect x="181.59" y="241.85" width="5.90" height="3.50" fill="#bdbdc1"/>
<rect x="188.68" y="241.85" width="5.90" height="3.50" fill="#bdbdc1"/>
<rect x="195.77" y="241.85" width="5.90" height="3.50" fill="#bdbdc1"/>
<rect x="202.86" y="241.85" width="5.90" height="3.50" fill="#bdbdc1"/>
<rect x="209.95" y="241.85" width="5.90" height="3.50" fill="#bdbdc1"/>
<rect x="231.22" y="241.85" width="5.90" height="3.50" fill="#bdbdc1"/>
<rect x="245.40" y="241.85" width="5.90" height="3.50" fill="#bdbdc1"/>
<rect x="252.49" y="241.85" width="5.90" height="3.50" fill="#bdbdc1"/>
<rect x="259.58" y="241.85" width="5.90" height="3.50" fill="#bdbdc1"/>
<rect x="266.67" y="241.85" width="5.90" height="3.50" fill="#bdbdc1"/>
<rect x="280.85" y="241.85" width="5.90" height="3.50" fill="#bdbdc1"/>
<rect x="287.94" y="241.85" width="5.90" height="3.50" fill="#bdbdc1"/>
<rect x="181.59" y="246.25" width="5.90" height="3.50" fill="#bdbdc1"/>
<rect x="188.68" y="246.25" width="5.90" height="3.50" fill="#bdbdc1"/>
<rect x="195.77" y="246.25" width="5.90" height="3.50" fill="#bdbdc1"/>
<rect x="202.86" y="246.25" width="5.90" height="3.50" fill="#bdbdc1"/>
<rect x="231.22" y="246.25" width="5.90" height="3.50" fill="#bdbdc1"/>
<rect x="252.49" y="246.25" width="5.90" height="3.50" fill="#bdbdc1"/>
<rect x="259.58" y="246.25" width="5.90" height="3.50" fill="#bdbdc1"/>
<rect x="266.67" y="246.25" width="5.90" height="3.50" fill="#bdbdc1"/>
<rect x="280.85" y="246.25" width="5.90" height="3.50" fill="#bdbdc1"/>
<rect x="287.94" y="246.25" width="5.90" height="3.50" fill="#bdbdc1"/>
<rect x="181.59" y="250.65" width="5.90" height="3.50" fill="#bdbdc1"/>
<rect x="188.68" y="250.65" width="5.90" height="3.50" fill="#bdbdc1"/>
<rect x="195.77" y="250.65" width="5.90" height="3.50" fill="#bdbdc1"/>
<rect x="202.86" y="250.65" width="5.90" height="3.50" fill="#bdbdc1"/>
<rect x="231.22" y="250.65" width="5.90" height="3.50" fill="#bdbdc1"/>
<rect x="245.40" y="250.65" width="5.90" height="3.50" fill="#bdbdc1"/>
<rect x="252.49" y="250.65" width="5.90" height="3.50" fill="#bdbdc1"/>
<rect x="259.58" y="250.65" width="5.90" height="3.50" fill="#bdbdc1"/>
<rect x="266.67" y="250.65" width="5.90" height="3.50" fill="#bdbdc1"/>
<rect x="280.85" y="250.65" width="5.90" height="3.50" fill="#bdbdc1"/>
<rect x="287.94" y="250.65" width="5.90" height="3.50" fill="#bdbdc1"/>
<rect x="174.50" y="255.05" width="5.90" height="3.50" fill="#27a9e1"/>
<rect x="181.59" y="255.05" width="5.90" height="3.50" fill="#bdbdc1"/>
<rect x="188.68" y="255.05" width="5.90" height="3.50" fill="#bdbdc1"/>
<rect x="195.77" y="255.05" width="5.90" height="3.50" fill="#27a9e1"/>
<rect x="202.86" y="255.05" width="5.90" height="3.50" fill="#27a9e1"/>
<rect x="209.95" y="255.05" width="5.90" height="3.50" fill="#27a9e1"/>
<rect x="217.04" y="255.05" width="5.90" height="3.50" fill="#27a9e1"/>
<rect x="224.13" y="255.05" width="5.90" height="3.50" fill="#27a9e1"/>
<rect x="231.22" y="255.05" width="5.90" height="3.50" fill="#27a9e1"/>
<rect x="238.31" y="255.05" width="5.90" height="3.50" fill="#27a9e1"/>
<rect x="245.40" y="255.05" width="5.90" height="3.50" fill="#27a9e1"/>
<rect x="252.49" y="255.05" width="5.90" height="3.50" fill="#27a9e1"/>
<rect x="259.58" y="255.05" width="5.90" height="3.50" fill="#27a9e1"/>
<rect x="266.67" y="255.05" width="5.90" height="3.50" fill="#27a9e1"/>
<rect x="273.76" y="255.05" width="5.90" height="3.50" fill="#27a9e1"/>
<rect x="280.85" y="255.05" width="5.90" height="3.50" fill="#27a9e1"/>
<rect x="287.94" y="255.05" width="5.90" height="3.50" fill="#27a9e1"/>
<rect x="181.59" y="259.45" width="5.90" height="3.50" fill="#27a9e1"/>
<rect x="188.68" y="259.45" width="5.90" height="3.50" fill="#27a9e1"/>
<rect x="202.86" y="259.45" width="5.90" height="3.50" fill="#27a9e1"/>
<rect x="209.95" y="259.45" width="5.90" height="3.50" fill="#27a9e1"/>
<rect x="273.76" y="259.45" width="5.90" height="3.50" fill="#27a9e1"/>
<rect x="41.10" y="271.65" width="6.00" height="3.50" fill="#27a9e1"/>
<rect x="48.25" y="271.65" width="6.00" height="3.50" fill="#bdbdc1"/>
<rect x="55.40" y="271.65" width="6.00" height="3.50" fill="#bdbdc1"/>
<rect x="62.55" y="271.65" width="6.00" height="3.50" fill="#27a9e1"/>
<rect x="69.70" y="271.65" width="6.00" height="3.50" fill="#27a9e1"/>
<rect x="76.85" y="271.65" width="6.00" height="3.50" fill="#27a9e1"/>
<rect x="84.00" y="271.65" width="6.00" height="3.50" fill="#0c3f75"/>
<rect x="91.15" y="271.65" width="6.00" height="3.50" fill="#0c3f75"/>
<rect x="98.30" y="271.65" width="6.00" height="3.50" fill="#0c3f75"/>
<rect x="105.45" y="271.65" width="6.00" height="3.50" fill="#0c3f75"/>
<rect x="112.60" y="271.65" width="6.00" height="3.50" fill="#bdbdc1"/>
<rect x="41.10" y="276.04" width="6.00" height="3.50" fill="#bdbdc1"/>
<rect x="48.25" y="276.04" width="6.00" height="3.50" fill="#bdbdc1"/>
<rect x="55.40" y="276.04" width="6.00" height="3.50" fill="#27a9e1"/>
<rect x="62.55" y="276.04" width="6.00" height="3.50" fill="#bdbdc1"/>
<rect x="69.70" y="276.04" width="6.00" height="3.50" fill="#27a9e1"/>
<rect x="76.85" y="276.04" width="6.00" height="3.50" fill="#bdbdc1"/>
<rect x="84.00" y="276.04" width="6.00" height="3.50" fill="#bdbdc1"/>
<rect x="91.15" y="276.04" width="6.00" height="3.50" fill="#bdbdc1"/>
<rect x="98.30" y="276.04" width="6.00" height="3.50" fill="#bdbdc1"/>
<rect x="105.45" y="276.04" width="6.00" height="3.50" fill="#27a9e1"/>
<rect x="112.60" y="276.04" width="6.00" height="3.50" fill="#27a9e1"/>
<rect x="41.10" y="280.43" width="6.00" height="3.50" fill="#27a9e1"/>
<rect x="48.25" y="280.43" width="6.00" height="3.50" fill="#0c3f75"/>
<rect x="55.40" y="280.43" width="6.00" height="3.50" fill="#bdbdc1"/>
<rect x="62.55" y="280.43" width="6.00" height="3.50" fill="#0c3f75"/>
<rect x="69.70" y="280.43" width="6.00" height="3.50" fill="#0c3f75"/>
<rect x="76.85" y="280.43" width="6.00" height="3.50" fill="#0c3f75"/>
<rect x="84.00" y="280.43" width="6.00" height="3.50" fill="#bdbdc1"/>
<rect x="91.15" y="280.43" width="6.00" height="3.50" fill="#bdbdc1"/>
<rect x="98.30" y="280.43" width="6.00" height="3.50" fill="#bdbdc1"/>
<rect x="105.45" y="280.43" width="6.00" height="3.50" fill="#bdbdc1"/>
<rect x="112.60" y="280.43" width="6.00" height="3.50" fill="#bdbdc1"/>
<rect x="41.10" y="284.82" width="6.00" height="3.50" fill="#27a9e1"/>
<rect x="48.25" y="284.82" width="6.00" height="3.50" fill="#27a9e1"/>
<rect x="62.55" y="284.82" width="6.00" height="3.50" fill="#27a9e1"/>
<rect x="69.70" y="284.82" width="6.00" height="3.50" fill="#27a9e1"/>
<rect x="76.85" y="284.82" width="6.00" height="3.50" fill="#27a9e1"/>
<rect x="84.00" y="284.82" width="6.00" height="3.50" fill="#bdbdc1"/>
<rect x="91.15" y="284.82" width="6.00" height="3.50" fill="#bdbdc1"/>
<rect x="105.45" y="284.82" width="6.00" height="3.50" fill="#27a9e1"/>
<rect x="112.60" y="284.82" width="6.00" height="3.50" fill="#bdbdc1"/>
<rect x="41.10" y="289.21" width="6.00" height="3.50" fill="#bdbdc1"/>
<rect x="48.25" y="289.21" width="6.00" height="3.50" fill="#27a9e1"/>
<rect x="55.40" y="289.21" width="6.00" height="3.50" fill="#bdbdc1"/>
<rect x="62.55" y="289.21" width="6.00" height="3.50" fill="#27a9e1"/>
<rect x="69.70" y="289.21" width="6.00" height="3.50" fill="#27a9e1"/>
<rect x="76.85" y="289.21" width="6.00" height="3.50" fill="#27a9e1"/>
<rect x="84.00" y="289.21" width="6.00" height="3.50" fill="#27a9e1"/>
<rect x="91.15" y="289.21" width="6.00" height="3.50" fill="#bdbdc1"/>
<rect x="98.30" y="289.21" width="6.00" height="3.50" fill="#bdbdc1"/>
<rect x="105.45" y="289.21" width="6.00" height="3.50" fill="#bdbdc1"/>
<rect x="112.60" y="289.21" width="6.00" height="3.50" fill="#bdbdc1"/>
<rect x="41.10" y="293.60" width="6.00" height="3.50" fill="#bdbdc1"/>
<rect x="48.25" y="293.60" width="6.00" height="3.50" fill="#bdbdc1"/>
<rect x="55.40" y="293.60" width="6.00" height="3.50" fill="#bdbdc1"/>
<rect x="62.55" y="293.60" width="6.00" height="3.50" fill="#27a9e1"/>
<rect x="69.70" y="293.60" width="6.00" height="3.50" fill="#27a9e1"/>
<rect x="76.85" y="293.60" width="6.00" height="3.50" fill="#27a9e1"/>
<rect x="84.00" y="293.60" width="6.00" height="3.50" fill="#bdbdc1"/>
<rect x="91.15" y="293.60" width="6.00" height="3.50" fill="#bdbdc1"/>
<rect x="98.30" y="293.60" width="6.00" height="3.50" fill="#bdbdc1"/>
<rect x="105.45" y="293.60" width="6.00" height="3.50" fill="#bdbdc1"/>
<rect x="112.60" y="293.60" width="6.00" height="3.50" fill="#bdbdc1"/>
<rect x="41.10" y="297.99" width="6.00" height="3.50" fill="#27a9e1"/>
<rect x="48.25" y="297.99" width="6.00" height="3.50" fill="#bdbdc1"/>
<rect x="62.55" y="297.99" width="6.00" height="3.50" fill="#bdbdc1"/>
<rect x="69.70" y="297.99" width="6.00" height="3.50" fill="#bdbdc1"/>
<rect x="76.85" y="297.99" width="6.00" height="3.50" fill="#bdbdc1"/>
<rect x="84.00" y="297.99" width="6.00" height="3.50" fill="#bdbdc1"/>
<rect x="91.15" y="297.99" width="6.00" height="3.50" fill="#bdbdc1"/>
<rect x="105.45" y="297.99" width="6.00" height="3.50" fill="#bdbdc1"/>
<rect x="112.60" y="297.99" width="6.00" height="3.50" fill="#bdbdc1"/>
<rect x="41.10" y="302.38" width="6.00" height="3.50" fill="#0c3f75"/>
<rect x="48.25" y="302.38" width="6.00" height="3.50" fill="#bdbdc1"/>
<rect x="62.55" y="302.38" width="6.00" height="3.50" fill="#bdbdc1"/>
<rect x="69.70" y="302.38" width="6.00" height="3.50" fill="#27a9e1"/>
<rect x="76.85" y="302.38" width="6.00" height="3.50" fill="#bdbdc1"/>
<rect x="84.00" y="302.38" width="6.00" height="3.50" fill="#bdbdc1"/>
<rect x="91.15" y="302.38" width="6.00" height="3.50" fill="#bdbdc1"/>
<rect x="105.45" y="302.38" width="6.00" height="3.50" fill="#bdbdc1"/>
<rect x="112.60" y="302.38" width="6.00" height="3.50" fill="#bdbdc1"/>
<rect x="41.10" y="306.77" width="6.00" height="3.50" fill="#27a9e1"/>
<rect x="48.25" y="306.77" width="6.00" height="3.50" fill="#bdbdc1"/>
<rect x="62.55" y="306.77" width="6.00" height="3.50" fill="#bdbdc1"/>
<rect x="69.70" y="306.77" width="6.00" height="3.50" fill="#bdbdc1"/>
<rect x="76.85" y="306.77" width="6.00" height="3.50" fill="#bdbdc1"/>
<rect x="84.00" y="306.77" width="6.00" height="3.50" fill="#27a9e1"/>
<rect x="91.15" y="306.77" width="6.00" height="3.50" fill="#27a9e1"/>
<rect x="105.45" y="306.77" width="6.00" height="3.50" fill="#bdbdc1"/>
<rect x="112.60" y="306.77" width="6.00" height="3.50" fill="#bdbdc1"/>
<rect x="41.10" y="311.16" width="6.00" height="3.50" fill="#bdbdc1"/>
<rect x="48.25" y="311.16" width="6.00" height="3.50" fill="#bdbdc1"/>
<rect x="62.55" y="311.16" width="6.00" height="3.50" fill="#27a9e1"/>
<rect x="69.70" y="311.16" width="6.00" height="3.50" fill="#27a9e1"/>
<rect x="76.85" y="311.16" width="6.00" height="3.50" fill="#27a9e1"/>
<rect x="84.00" y="311.16" width="6.00" height="3.50" fill="#bdbdc1"/>
<rect x="91.15" y="311.16" width="6.00" height="3.50" fill="#bdbdc1"/>
<rect x="105.45" y="311.16" width="6.00" height="3.50" fill="#bdbdc1"/>
<rect x="112.60" y="311.16" width="6.00" height="3.50" fill="#bdbdc1"/>
<rect x="41.10" y="315.55" width="6.00" height="3.50" fill="#bdbdc1"/>
<rect x="48.25" y="315.55" width="6.00" height="3.50" fill="#bdbdc1"/>
<rect x="62.55" y="315.55" width="6.00" height="3.50" fill="#bdbdc1"/>
<rect x="69.70" y="315.55" width="6.00" height="3.50" fill="#bdbdc1"/>
<rect x="76.85" y="315.55" width="6.00" height="3.50" fill="#bdbdc1"/>
<rect x="84.00" y="315.55" width="6.00" height="3.50" fill="#bdbdc1"/>
<rect x="91.15" y="315.55" width="6.00" height="3.50" fill="#bdbdc1"/>
<rect x="105.45" y="315.55" width="6.00" height="3.50" fill="#bdbdc1"/>
<rect x="112.60" y="315.55" width="6.00" height="3.50" fill="#bdbdc1"/>
<rect x="41.10" y="319.94" width="6.00" height="3.50" fill="#27a9e1"/>
<rect x="48.25" y="319.94" width="6.00" height="3.50" fill="#bdbdc1"/>
<rect x="62.55" y="319.94" width="6.00" height="3.50" fill="#bdbdc1"/>
<rect x="69.70" y="319.94" width="6.00" height="3.50" fill="#bdbdc1"/>
<rect x="76.85" y="319.94" width="6.00" height="3.50" fill="#bdbdc1"/>
<rect x="84.00" y="319.94" width="6.00" height="3.50" fill="#bdbdc1"/>
<rect x="91.15" y="319.94" width="6.00" height="3.50" fill="#bdbdc1"/>
<rect x="105.45" y="319.94" width="6.00" height="3.50" fill="#bdbdc1"/>
<rect x="112.60" y="319.94" width="6.00" height="3.50" fill="#bdbdc1"/>
<rect x="41.10" y="324.33" width="6.00" height="3.50" fill="#27a9e1"/>
<rect x="48.25" y="324.33" width="6.00" height="3.50" fill="#bdbdc1"/>
<rect x="62.55" y="324.33" width="6.00" height="3.50" fill="#bdbdc1"/>
<rect x="69.70" y="324.33" width="6.00" height="3.50" fill="#bdbdc1"/>
<rect x="76.85" y="324.33" width="6.00" height="3.50" fill="#bdbdc1"/>
<rect x="84.00" y="324.33" width="6.00" height="3.50" fill="#bdbdc1"/>
<rect x="91.15" y="324.33" width="6.00" height="3.50" fill="#bdbdc1"/>
<rect x="105.45" y="324.33" width="6.00" height="3.50" fill="#bdbdc1"/>
<rect x="112.60" y="324.33" width="6.00" height="3.50" fill="#bdbdc1"/>
<rect x="41.10" y="328.72" width="6.00" height="3.50" fill="#bdbdc1"/>
<rect x="48.25" y="328.72" width="6.00" height="3.50" fill="#bdbdc1"/>
<rect x="62.55" y="328.72" width="6.00" height="3.50" fill="#bdbdc1"/>
<rect x="69.70" y="328.72" width="6.00" height="3.50" fill="#bdbdc1"/>
<rect x="76.85" y="328.72" width="6.00" height="3.50" fill="#bdbdc1"/>
<rect x="84.00" y="328.72" width="6.00" height="3.50" fill="#27a9e1"/>
<rect x="91.15" y="328.72" width="6.00" height="3.50" fill="#bdbdc1"/>
<rect x="105.45" y="328.72" width="6.00" height="3.50" fill="#bdbdc1"/>
<rect x="112.60" y="328.72" width="6.00" height="3.50" fill="#bdbdc1"/>
<rect x="41.10" y="333.11" width="6.00" height="3.50" fill="#bdbdc1"/>
<rect x="48.25" y="333.11" width="6.00" height="3.50" fill="#bdbdc1"/>
<rect x="62.55" y="333.11" width="6.00" height="3.50" fill="#27a9e1"/>
<rect x="69.70" y="333.11" width="6.00" height="3.50" fill="#bdbdc1"/>
<rect x="76.85" y="333.11" width="6.00" height="3.50" fill="#bdbdc1"/>
<rect x="84.00" y="333.11" width="6.00" height="3.50" fill="#27a9e1"/>
<rect x="91.15" y="333.11" width="6.00" height="3.50" fill="#bdbdc1"/>
<rect x="105.45" y="333.11" width="6.00" height="3.50" fill="#bdbdc1"/>
<rect x="112.60" y="333.11" width="6.00" height="3.50" fill="#bdbdc1"/>
<rect x="41.10" y="337.50" width="6.00" height="3.50" fill="#bdbdc1"/>
<rect x="48.25" y="337.50" width="6.00" height="3.50" fill="#bdbdc1"/>
<rect x="55.40" y="337.50" width="6.00" height="3.50" fill="#bdbdc1"/>
<rect x="62.55" y="337.50" width="6.00" height="3.50" fill="#bdbdc1"/>
<rect x="69.70" y="337.50" width="6.00" height="3.50" fill="#27a9e1"/>
<rect x="76.85" y="337.50" width="6.00" height="3.50" fill="#bdbdc1"/>
<rect x="84.00" y="337.50" width="6.00" height="3.50" fill="#bdbdc1"/>
<rect x="91.15" y="337.50" width="6.00" height="3.50" fill="#27a9e1"/>
<rect x="98.30" y="337.50" width="6.00" height="3.50" fill="#bdbdc1"/>
<rect x="105.45" y="337.50" width="6.00" height="3.50" fill="#bdbdc1"/>
<rect x="112.60" y="337.50" width="6.00" height="3.50" fill="#bdbdc1"/>
<rect x="41.10" y="341.89" width="6.00" height="3.50" fill="#bdbdc1"/>
<rect x="48.25" y="341.89" width="6.00" height="3.50" fill="#bdbdc1"/>
<rect x="62.55" y="341.89" width="6.00" height="3.50" fill="#bdbdc1"/>
<rect x="69.70" y="341.89" width="6.00" height="3.50" fill="#bdbdc1"/>
<rect x="76.85" y="341.89" width="6.00" height="3.50" fill="#bdbdc1"/>
<rect x="84.00" y="341.89" width="6.00" height="3.50" fill="#bdbdc1"/>
<rect x="91.15" y="341.89" width="6.00" height="3.50" fill="#bdbdc1"/>
<rect x="105.45" y="341.89" width="6.00" height="3.50" fill="#bdbdc1"/>
<rect x="112.60" y="341.89" width="6.00" height="3.50" fill="#bdbdc1"/>
<rect x="41.10" y="346.28" width="6.00" height="3.50" fill="#bdbdc1"/>
<rect x="48.25" y="346.28" width="6.00" height="3.50" fill="#bdbdc1"/>
<rect x="62.55" y="346.28" width="6.00" height="3.50" fill="#27a9e1"/>
<rect x="69.70" y="346.28" width="6.00" height="3.50" fill="#0c3f75"/>
<rect x="76.85" y="346.28" width="6.00" height="3.50" fill="#bdbdc1"/>
<rect x="84.00" y="346.28" width="6.00" height="3.50" fill="#bdbdc1"/>
<rect x="91.15" y="346.28" width="6.00" height="3.50" fill="#bdbdc1"/>
<rect x="105.45" y="346.28" width="6.00" height="3.50" fill="#bdbdc1"/>
<rect x="112.60" y="346.28" width="6.00" height="3.50" fill="#bdbdc1"/>
<rect x="41.10" y="350.67" width="6.00" height="3.50" fill="#27a9e1"/>
<rect x="48.25" y="350.67" width="6.00" height="3.50" fill="#bdbdc1"/>
<rect x="62.55" y="350.67" width="6.00" height="3.50" fill="#bdbdc1"/>
<rect x="69.70" y="350.67" width="6.00" height="3.50" fill="#bdbdc1"/>
<rect x="76.85" y="350.67" width="6.00" height="3.50" fill="#bdbdc1"/>
<rect x="84.00" y="350.67" width="6.00" height="3.50" fill="#bdbdc1"/>
<rect x="91.15" y="350.67" width="6.00" height="3.50" fill="#bdbdc1"/>
<rect x="105.45" y="350.67" width="6.00" height="3.50" fill="#bdbdc1"/>
<rect x="112.60" y="350.67" width="6.00" height="3.50" fill="#27a9e1"/>
<rect x="41.10" y="355.06" width="6.00" height="3.50" fill="#bdbdc1"/>
<rect x="48.25" y="355.06" width="6.00" height="3.50" fill="#bdbdc1"/>
<rect x="62.55" y="355.06" width="6.00" height="3.50" fill="#27a9e1"/>
<rect x="69.70" y="355.06" width="6.00" height="3.50" fill="#27a9e1"/>
<rect x="76.85" y="355.06" width="6.00" height="3.50" fill="#bdbdc1"/>
<rect x="84.00" y="355.06" width="6.00" height="3.50" fill="#bdbdc1"/>
<rect x="91.15" y="355.06" width="6.00" height="3.50" fill="#bdbdc1"/>
<rect x="105.45" y="355.06" width="6.00" height="3.50" fill="#bdbdc1"/>
<rect x="112.60" y="355.06" width="6.00" height="3.50" fill="#bdbdc1"/>
<rect x="174.50" y="271.65" width="5.90" height="3.50" fill="#0c3f75"/>
<rect x="181.59" y="271.65" width="5.90" height="3.50" fill="#27a9e1"/>
<rect x="188.68" y="271.65" width="5.90" height="3.50" fill="#bdbdc1"/>
<rect x="195.77" y="271.65" width="5.90" height="3.50" fill="#0c3f75"/>
<rect x="202.86" y="271.65" width="5.90" height="3.50" fill="#0c3f75"/>
<rect x="209.95" y="271.65" width="5.90" height="3.50" fill="#bdbdc1"/>
<rect x="217.04" y="271.65" width="5.90" height="3.50" fill="#0c3f75"/>
<rect x="224.13" y="271.65" width="5.90" height="3.50" fill="#0c3f75"/>
<rect x="231.22" y="271.65" width="5.90" height="3.50" fill="#0c3f75"/>
<rect x="238.31" y="271.65" width="5.90" height="3.50" fill="#0c3f75"/>
<rect x="245.40" y="271.65" width="5.90" height="3.50" fill="#27a9e1"/>
<rect x="252.49" y="271.65" width="5.90" height="3.50" fill="#27a9e1"/>
<rect x="259.58" y="271.65" width="5.90" height="3.50" fill="#bdbdc1"/>
<rect x="266.67" y="271.65" width="5.90" height="3.50" fill="#bdbdc1"/>
<rect x="273.76" y="271.65" width="5.90" height="3.50" fill="#0c3f75"/>
<rect x="280.85" y="271.65" width="5.90" height="3.50" fill="#0c3f75"/>
<rect x="287.94" y="271.65" width="5.90" height="3.50" fill="#0c3f75"/>
<rect x="174.50" y="276.04" width="5.90" height="3.50" fill="#bdbdc1"/>
<rect x="181.59" y="276.04" width="5.90" height="3.50" fill="#27a9e1"/>
<rect x="188.68" y="276.04" width="5.90" height="3.50" fill="#bdbdc1"/>
<rect x="195.77" y="276.04" width="5.90" height="3.50" fill="#27a9e1"/>
<rect x="202.86" y="276.04" width="5.90" height="3.50" fill="#bdbdc1"/>
<rect x="209.95" y="276.04" width="5.90" height="3.50" fill="#27a9e1"/>
<rect x="217.04" y="276.04" width="5.90" height="3.50" fill="#27a9e1"/>
<rect x="224.13" y="276.04" width="5.90" height="3.50" fill="#27a9e1"/>
<rect x="231.22" y="276.04" width="5.90" height="3.50" fill="#27a9e1"/>
<rect x="238.31" y="276.04" width="5.90" height="3.50" fill="#bdbdc1"/>
<rect x="245.40" y="276.04" width="5.90" height="3.50" fill="#bdbdc1"/>
<rect x="252.49" y="276.04" width="5.90" height="3.50" fill="#bdbdc1"/>
<rect x="259.58" y="276.04" width="5.90" height="3.50" fill="#bdbdc1"/>
<rect x="266.67" y="276.04" width="5.90" height="3.50" fill="#bdbdc1"/>
<rect x="273.76" y="276.04" width="5.90" height="3.50" fill="#bdbdc1"/>
<rect x="280.85" y="276.04" width="5.90" height="3.50" fill="#bdbdc1"/>
<rect x="287.94" y="276.04" width="5.90" height="3.50" fill="#bdbdc1"/>
<rect x="174.50" y="280.43" width="5.90" height="3.50" fill="#bdbdc1"/>
<rect x="181.59" y="280.43" width="5.90" height="3.50" fill="#0c3f75"/>
<rect x="188.68" y="280.43" width="5.90" height="3.50" fill="#bdbdc1"/>
<rect x="195.77" y="280.43" width="5.90" height="3.50" fill="#bdbdc1"/>
<rect x="202.86" y="280.43" width="5.90" height="3.50" fill="#bdbdc1"/>
<rect x="209.95" y="280.43" width="5.90" height="3.50" fill="#bdbdc1"/>
<rect x="217.04" y="280.43" width="5.90" height="3.50" fill="#0c3f75"/>
<rect x="224.13" y="280.43" width="5.90" height="3.50" fill="#bdbdc1"/>
<rect x="231.22" y="280.43" width="5.90" height="3.50" fill="#bdbdc1"/>
<rect x="238.31" y="280.43" width="5.90" height="3.50" fill="#bdbdc1"/>
<rect x="245.40" y="280.43" width="5.90" height="3.50" fill="#bdbdc1"/>
<rect x="252.49" y="280.43" width="5.90" height="3.50" fill="#bdbdc1"/>
<rect x="259.58" y="280.43" width="5.90" height="3.50" fill="#bdbdc1"/>
<rect x="266.67" y="280.43" width="5.90" height="3.50" fill="#bdbdc1"/>
<rect x="273.76" y="280.43" width="5.90" height="3.50" fill="#bdbdc1"/>
<rect x="280.85" y="280.43" width="5.90" height="3.50" fill="#27a9e1"/>
<rect x="287.94" y="280.43" width="5.90" height="3.50" fill="#bdbdc1"/>
<rect x="174.50" y="284.82" width="5.90" height="3.50" fill="#bdbdc1"/>
<rect x="181.59" y="284.82" width="5.90" height="3.50" fill="#bdbdc1"/>
<rect x="188.68" y="284.82" width="5.90" height="3.50" fill="#bdbdc1"/>
<rect x="195.77" y="284.82" width="5.90" height="3.50" fill="#bdbdc1"/>
<rect x="202.86" y="284.82" width="5.90" height="3.50" fill="#27a9e1"/>
<rect x="209.95" y="284.82" width="5.90" height="3.50" fill="#bdbdc1"/>
<rect x="217.04" y="284.82" width="5.90" height="3.50" fill="#bdbdc1"/>
<rect x="224.13" y="284.82" width="5.90" height="3.50" fill="#bdbdc1"/>
<rect x="231.22" y="284.82" width="5.90" height="3.50" fill="#bdbdc1"/>
<rect x="238.31" y="284.82" width="5.90" height="3.50" fill="#bdbdc1"/>
<rect x="245.40" y="284.82" width="5.90" height="3.50" fill="#bdbdc1"/>
<rect x="252.49" y="284.82" width="5.90" height="3.50" fill="#bdbdc1"/>
<rect x="259.58" y="284.82" width="5.90" height="3.50" fill="#bdbdc1"/>
<rect x="266.67" y="284.82" width="5.90" height="3.50" fill="#bdbdc1"/>
<rect x="273.76" y="284.82" width="5.90" height="3.50" fill="#bdbdc1"/>
<rect x="280.85" y="284.82" width="5.90" height="3.50" fill="#bdbdc1"/>
<rect x="287.94" y="284.82" width="5.90" height="3.50" fill="#bdbdc1"/>
<rect x="174.50" y="289.21" width="5.90" height="3.50" fill="#bdbdc1"/>
<rect x="181.59" y="289.21" width="5.90" height="3.50" fill="#bdbdc1"/>
<rect x="188.68" y="289.21" width="5.90" height="3.50" fill="#bdbdc1"/>
<rect x="195.77" y="289.21" width="5.90" height="3.50" fill="#bdbdc1"/>
<rect x="202.86" y="289.21" width="5.90" height="3.50" fill="#bdbdc1"/>
<rect x="209.95" y="289.21" width="5.90" height="3.50" fill="#bdbdc1"/>
<rect x="217.04" y="289.21" width="5.90" height="3.50" fill="#27a9e1"/>
<rect x="224.13" y="289.21" width="5.90" height="3.50" fill="#bdbdc1"/>
<rect x="231.22" y="289.21" width="5.90" height="3.50" fill="#bdbdc1"/>
<rect x="238.31" y="289.21" width="5.90" height="3.50" fill="#bdbdc1"/>
<rect x="245.40" y="289.21" width="5.90" height="3.50" fill="#bdbdc1"/>
<rect x="252.49" y="289.21" width="5.90" height="3.50" fill="#bdbdc1"/>
<rect x="259.58" y="289.21" width="5.90" height="3.50" fill="#bdbdc1"/>
<rect x="266.67" y="289.21" width="5.90" height="3.50" fill="#bdbdc1"/>
<rect x="273.76" y="289.21" width="5.90" height="3.50" fill="#bdbdc1"/>
<rect x="280.85" y="289.21" width="5.90" height="3.50" fill="#bdbdc1"/>
<rect x="287.94" y="289.21" width="5.90" height="3.50" fill="#bdbdc1"/>
<rect x="174.50" y="293.60" width="5.90" height="3.50" fill="#bdbdc1"/>
<rect x="181.59" y="293.60" width="5.90" height="3.50" fill="#27a9e1"/>
<rect x="188.68" y="293.60" width="5.90" height="3.50" fill="#bdbdc1"/>
<rect x="195.77" y="293.60" width="5.90" height="3.50" fill="#27a9e1"/>
<rect x="202.86" y="293.60" width="5.90" height="3.50" fill="#bdbdc1"/>
<rect x="209.95" y="293.60" width="5.90" height="3.50" fill="#bdbdc1"/>
<rect x="217.04" y="293.60" width="5.90" height="3.50" fill="#bdbdc1"/>
<rect x="224.13" y="293.60" width="5.90" height="3.50" fill="#bdbdc1"/>
<rect x="231.22" y="293.60" width="5.90" height="3.50" fill="#bdbdc1"/>
<rect x="238.31" y="293.60" width="5.90" height="3.50" fill="#bdbdc1"/>
<rect x="245.40" y="293.60" width="5.90" height="3.50" fill="#bdbdc1"/>
<rect x="252.49" y="293.60" width="5.90" height="3.50" fill="#bdbdc1"/>
<rect x="259.58" y="293.60" width="5.90" height="3.50" fill="#bdbdc1"/>
<rect x="266.67" y="293.60" width="5.90" height="3.50" fill="#bdbdc1"/>
<rect x="273.76" y="293.60" width="5.90" height="3.50" fill="#bdbdc1"/>
<rect x="280.85" y="293.60" width="5.90" height="3.50" fill="#bdbdc1"/>
<rect x="287.94" y="293.60" width="5.90" height="3.50" fill="#bdbdc1"/>
<rect x="174.50" y="297.99" width="5.90" height="3.50" fill="#bdbdc1"/>
<rect x="181.59" y="297.99" width="5.90" height="3.50" fill="#bdbdc1"/>
<rect x="188.68" y="297.99" width="5.90" height="3.50" fill="#bdbdc1"/>
<rect x="195.77" y="297.99" width="5.90" height="3.50" fill="#bdbdc1"/>
<rect x="202.86" y="297.99" width="5.90" height="3.50" fill="#27a9e1"/>
<rect x="209.95" y="297.99" width="5.90" height="3.50" fill="#bdbdc1"/>
<rect x="217.04" y="297.99" width="5.90" height="3.50" fill="#bdbdc1"/>
<rect x="224.13" y="297.99" width="5.90" height="3.50" fill="#bdbdc1"/>
<rect x="231.22" y="297.99" width="5.90" height="3.50" fill="#bdbdc1"/>
<rect x="238.31" y="297.99" width="5.90" height="3.50" fill="#bdbdc1"/>
<rect x="245.40" y="297.99" width="5.90" height="3.50" fill="#27a9e1"/>
<rect x="252.49" y="297.99" width="5.90" height="3.50" fill="#bdbdc1"/>
<rect x="259.58" y="297.99" width="5.90" height="3.50" fill="#27a9e1"/>
<rect x="266.67" y="297.99" width="5.90" height="3.50" fill="#bdbdc1"/>
<rect x="273.76" y="297.99" width="5.90" height="3.50" fill="#bdbdc1"/>
<rect x="280.85" y="297.99" width="5.90" height="3.50" fill="#27a9e1"/>
<rect x="287.94" y="297.99" width="5.90" height="3.50" fill="#bdbdc1"/>
<rect x="174.50" y="302.38" width="5.90" height="3.50" fill="#bdbdc1"/>
<rect x="181.59" y="302.38" width="5.90" height="3.50" fill="#bdbdc1"/>
<rect x="188.68" y="302.38" width="5.90" height="3.50" fill="#bdbdc1"/>
<rect x="195.77" y="302.38" width="5.90" height="3.50" fill="#bdbdc1"/>
<rect x="202.86" y="302.38" width="5.90" height="3.50" fill="#bdbdc1"/>
<rect x="209.95" y="302.38" width="5.90" height="3.50" fill="#27a9e1"/>
<rect x="217.04" y="302.38" width="5.90" height="3.50" fill="#27a9e1"/>
<rect x="224.13" y="302.38" width="5.90" height="3.50" fill="#bdbdc1"/>
<rect x="231.22" y="302.38" width="5.90" height="3.50" fill="#bdbdc1"/>
<rect x="238.31" y="302.38" width="5.90" height="3.50" fill="#bdbdc1"/>
<rect x="245.40" y="302.38" width="5.90" height="3.50" fill="#bdbdc1"/>
<rect x="252.49" y="302.38" width="5.90" height="3.50" fill="#bdbdc1"/>
<rect x="259.58" y="302.38" width="5.90" height="3.50" fill="#bdbdc1"/>
<rect x="266.67" y="302.38" width="5.90" height="3.50" fill="#bdbdc1"/>
<rect x="273.76" y="302.38" width="5.90" height="3.50" fill="#bdbdc1"/>
<rect x="280.85" y="302.38" width="5.90" height="3.50" fill="#bdbdc1"/>
<rect x="287.94" y="302.38" width="5.90" height="3.50" fill="#bdbdc1"/>
<rect x="174.50" y="306.77" width="5.90" height="3.50" fill="#bdbdc1"/>
<rect x="181.59" y="306.77" width="5.90" height="3.50" fill="#bdbdc1"/>
<rect x="188.68" y="306.77" width="5.90" height="3.50" fill="#bdbdc1"/>
<rect x="195.77" y="306.77" width="5.90" height="3.50" fill="#bdbdc1"/>
<rect x="202.86" y="306.77" width="5.90" height="3.50" fill="#bdbdc1"/>
<rect x="209.95" y="306.77" width="5.90" height="3.50" fill="#bdbdc1"/>
<rect x="217.04" y="306.77" width="5.90" height="3.50" fill="#bdbdc1"/>
<rect x="224.13" y="306.77" width="5.90" height="3.50" fill="#bdbdc1"/>
<rect x="231.22" y="306.77" width="5.90" height="3.50" fill="#bdbdc1"/>
<rect x="238.31" y="306.77" width="5.90" height="3.50" fill="#27a9e1"/>
<rect x="245.40" y="306.77" width="5.90" height="3.50" fill="#bdbdc1"/>
<rect x="252.49" y="306.77" width="5.90" height="3.50" fill="#bdbdc1"/>
<rect x="259.58" y="306.77" width="5.90" height="3.50" fill="#bdbdc1"/>
<rect x="266.67" y="306.77" width="5.90" height="3.50" fill="#bdbdc1"/>
<rect x="273.76" y="306.77" width="5.90" height="3.50" fill="#bdbdc1"/>
<rect x="280.85" y="306.77" width="5.90" height="3.50" fill="#bdbdc1"/>
<rect x="287.94" y="306.77" width="5.90" height="3.50" fill="#bdbdc1"/>
<rect x="174.50" y="311.16" width="5.90" height="3.50" fill="#bdbdc1"/>
<rect x="181.59" y="311.16" width="5.90" height="3.50" fill="#bdbdc1"/>
<rect x="188.68" y="311.16" width="5.90" height="3.50" fill="#bdbdc1"/>
<rect x="195.77" y="311.16" width="5.90" height="3.50" fill="#bdbdc1"/>
<rect x="202.86" y="311.16" width="5.90" height="3.50" fill="#bdbdc1"/>
<rect x="209.95" y="311.16" width="5.90" height="3.50" fill="#bdbdc1"/>
<rect x="217.04" y="311.16" width="5.90" height="3.50" fill="#bdbdc1"/>
<rect x="224.13" y="311.16" width="5.90" height="3.50" fill="#bdbdc1"/>
<rect x="231.22" y="311.16" width="5.90" height="3.50" fill="#bdbdc1"/>
<rect x="238.31" y="311.16" width="5.90" height="3.50" fill="#bdbdc1"/>
<rect x="245.40" y="311.16" width="5.90" height="3.50" fill="#bdbdc1"/>
<rect x="252.49" y="311.16" width="5.90" height="3.50" fill="#bdbdc1"/>
<rect x="259.58" y="311.16" width="5.90" height="3.50" fill="#bdbdc1"/>
<rect x="266.67" y="311.16" width="5.90" height="3.50" fill="#bdbdc1"/>
<rect x="273.76" y="311.16" width="5.90" height="3.50" fill="#bdbdc1"/>
<rect x="280.85" y="311.16" width="5.90" height="3.50" fill="#bdbdc1"/>
<rect x="287.94" y="311.16" width="5.90" height="3.50" fill="#bdbdc1"/>
<rect x="174.50" y="315.55" width="5.90" height="3.50" fill="#bdbdc1"/>
<rect x="181.59" y="315.55" width="5.90" height="3.50" fill="#bdbdc1"/>
<rect x="188.68" y="315.55" width="5.90" height="3.50" fill="#bdbdc1"/>
<rect x="195.77" y="315.55" width="5.90" height="3.50" fill="#bdbdc1"/>
<rect x="202.86" y="315.55" width="5.90" height="3.50" fill="#bdbdc1"/>
<rect x="209.95" y="315.55" width="5.90" height="3.50" fill="#bdbdc1"/>
<rect x="217.04" y="315.55" width="5.90" height="3.50" fill="#27a9e1"/>
<rect x="224.13" y="315.55" width="5.90" height="3.50" fill="#bdbdc1"/>
<rect x="231.22" y="315.55" width="5.90" height="3.50" fill="#bdbdc1"/>
<rect x="238.31" y="315.55" width="5.90" height="3.50" fill="#27a9e1"/>
<rect x="245.40" y="315.55" width="5.90" height="3.50" fill="#bdbdc1"/>
<rect x="252.49" y="315.55" width="5.90" height="3.50" fill="#bdbdc1"/>
<rect x="259.58" y="315.55" width="5.90" height="3.50" fill="#bdbdc1"/>
<rect x="266.67" y="315.55" width="5.90" height="3.50" fill="#bdbdc1"/>
<rect x="273.76" y="315.55" width="5.90" height="3.50" fill="#0c3f75"/>
<rect x="280.85" y="315.55" width="5.90" height="3.50" fill="#bdbdc1"/>
<rect x="287.94" y="315.55" width="5.90" height="3.50" fill="#bdbdc1"/>
<rect x="174.50" y="319.94" width="5.90" height="3.50" fill="#bdbdc1"/>
<rect x="181.59" y="319.94" width="5.90" height="3.50" fill="#bdbdc1"/>
<rect x="188.68" y="319.94" width="5.90" height="3.50" fill="#bdbdc1"/>
<rect x="195.77" y="319.94" width="5.90" height="3.50" fill="#bdbdc1"/>
<rect x="202.86" y="319.94" width="5.90" height="3.50" fill="#bdbdc1"/>
<rect x="209.95" y="319.94" width="5.90" height="3.50" fill="#27a9e1"/>
<rect x="217.04" y="319.94" width="5.90" height="3.50" fill="#bdbdc1"/>
<rect x="224.13" y="319.94" width="5.90" height="3.50" fill="#bdbdc1"/>
<rect x="231.22" y="319.94" width="5.90" height="3.50" fill="#bdbdc1"/>
<rect x="238.31" y="319.94" width="5.90" height="3.50" fill="#27a9e1"/>
<rect x="245.40" y="319.94" width="5.90" height="3.50" fill="#bdbdc1"/>
<rect x="252.49" y="319.94" width="5.90" height="3.50" fill="#bdbdc1"/>
<rect x="259.58" y="319.94" width="5.90" height="3.50" fill="#bdbdc1"/>
<rect x="266.67" y="319.94" width="5.90" height="3.50" fill="#bdbdc1"/>
<rect x="273.76" y="319.94" width="5.90" height="3.50" fill="#bdbdc1"/>
<rect x="280.85" y="319.94" width="5.90" height="3.50" fill="#bdbdc1"/>
<rect x="287.94" y="319.94" width="5.90" height="3.50" fill="#bdbdc1"/>
<rect x="174.50" y="324.33" width="5.90" height="3.50" fill="#bdbdc1"/>
<rect x="181.59" y="324.33" width="5.90" height="3.50" fill="#bdbdc1"/>
<rect x="188.68" y="324.33" width="5.90" height="3.50" fill="#bdbdc1"/>
<rect x="195.77" y="324.33" width="5.90" height="3.50" fill="#27a9e1"/>
<rect x="202.86" y="324.33" width="5.90" height="3.50" fill="#bdbdc1"/>
<rect x="209.95" y="324.33" width="5.90" height="3.50" fill="#bdbdc1"/>
<rect x="217.04" y="324.33" width="5.90" height="3.50" fill="#bdbdc1"/>
<rect x="224.13" y="324.33" width="5.90" height="3.50" fill="#27a9e1"/>
<rect x="231.22" y="324.33" width="5.90" height="3.50" fill="#bdbdc1"/>
<rect x="238.31" y="324.33" width="5.90" height="3.50" fill="#bdbdc1"/>
<rect x="245.40" y="324.33" width="5.90" height="3.50" fill="#bdbdc1"/>
<rect x="252.49" y="324.33" width="5.90" height="3.50" fill="#bdbdc1"/>
<rect x="259.58" y="324.33" width="5.90" height="3.50" fill="#bdbdc1"/>
<rect x="266.67" y="324.33" width="5.90" height="3.50" fill="#bdbdc1"/>
<rect x="273.76" y="324.33" width="5.90" height="3.50" fill="#bdbdc1"/>
<rect x="280.85" y="324.33" width="5.90" height="3.50" fill="#bdbdc1"/>
<rect x="287.94" y="324.33" width="5.90" height="3.50" fill="#bdbdc1"/>
<rect x="174.50" y="328.72" width="5.90" height="3.50" fill="#bdbdc1"/>
<rect x="181.59" y="328.72" width="5.90" height="3.50" fill="#bdbdc1"/>
<rect x="188.68" y="328.72" width="5.90" height="3.50" fill="#bdbdc1"/>
<rect x="195.77" y="328.72" width="5.90" height="3.50" fill="#bdbdc1"/>
<rect x="202.86" y="328.72" width="5.90" height="3.50" fill="#bdbdc1"/>
<rect x="209.95" y="328.72" width="5.90" height="3.50" fill="#bdbdc1"/>
<rect x="217.04" y="328.72" width="5.90" height="3.50" fill="#bdbdc1"/>
<rect x="224.13" y="328.72" width="5.90" height="3.50" fill="#bdbdc1"/>
<rect x="231.22" y="328.72" width="5.90" height="3.50" fill="#bdbdc1"/>
<rect x="238.31" y="328.72" width="5.90" height="3.50" fill="#27a9e1"/>
<rect x="245.40" y="328.72" width="5.90" height="3.50" fill="#bdbdc1"/>
<rect x="252.49" y="328.72" width="5.90" height="3.50" fill="#bdbdc1"/>
<rect x="259.58" y="328.72" width="5.90" height="3.50" fill="#bdbdc1"/>
<rect x="266.67" y="328.72" width="5.90" height="3.50" fill="#27a9e1"/>
<rect x="273.76" y="328.72" width="5.90" height="3.50" fill="#bdbdc1"/>
<rect x="280.85" y="328.72" width="5.90" height="3.50" fill="#bdbdc1"/>
<rect x="287.94" y="328.72" width="5.90" height="3.50" fill="#bdbdc1"/>
<rect x="174.50" y="333.11" width="5.90" height="3.50" fill="#bdbdc1"/>
<rect x="181.59" y="333.11" width="5.90" height="3.50" fill="#bdbdc1"/>
<rect x="188.68" y="333.11" width="5.90" height="3.50" fill="#bdbdc1"/>
<rect x="195.77" y="333.11" width="5.90" height="3.50" fill="#bdbdc1"/>
<rect x="202.86" y="333.11" width="5.90" height="3.50" fill="#bdbdc1"/>
<rect x="209.95" y="333.11" width="5.90" height="3.50" fill="#bdbdc1"/>
<rect x="217.04" y="333.11" width="5.90" height="3.50" fill="#bdbdc1"/>
<rect x="224.13" y="333.11" width="5.90" height="3.50" fill="#bdbdc1"/>
<rect x="231.22" y="333.11" width="5.90" height="3.50" fill="#bdbdc1"/>
<rect x="238.31" y="333.11" width="5.90" height="3.50" fill="#bdbdc1"/>
<rect x="245.40" y="333.11" width="5.90" height="3.50" fill="#27a9e1"/>
<rect x="252.49" y="333.11" width="5.90" height="3.50" fill="#bdbdc1"/>
<rect x="259.58" y="333.11" width="5.90" height="3.50" fill="#bdbdc1"/>
<rect x="266.67" y="333.11" width="5.90" height="3.50" fill="#bdbdc1"/>
<rect x="273.76" y="333.11" width="5.90" height="3.50" fill="#bdbdc1"/>
<rect x="280.85" y="333.11" width="5.90" height="3.50" fill="#bdbdc1"/>
<rect x="287.94" y="333.11" width="5.90" height="3.50" fill="#bdbdc1"/>
<rect x="174.50" y="337.50" width="5.90" height="3.50" fill="#bdbdc1"/>
<rect x="181.59" y="337.50" width="5.90" height="3.50" fill="#bdbdc1"/>
<rect x="188.68" y="337.50" width="5.90" height="3.50" fill="#bdbdc1"/>
<rect x="195.77" y="337.50" width="5.90" height="3.50" fill="#bdbdc1"/>
<rect x="202.86" y="337.50" width="5.90" height="3.50" fill="#bdbdc1"/>
<rect x="209.95" y="337.50" width="5.90" height="3.50" fill="#bdbdc1"/>
<rect x="217.04" y="337.50" width="5.90" height="3.50" fill="#bdbdc1"/>
<rect x="224.13" y="337.50" width="5.90" height="3.50" fill="#bdbdc1"/>
<rect x="231.22" y="337.50" width="5.90" height="3.50" fill="#bdbdc1"/>
<rect x="238.31" y="337.50" width="5.90" height="3.50" fill="#bdbdc1"/>
<rect x="245.40" y="337.50" width="5.90" height="3.50" fill="#bdbdc1"/>
<rect x="252.49" y="337.50" width="5.90" height="3.50" fill="#bdbdc1"/>
<rect x="259.58" y="337.50" width="5.90" height="3.50" fill="#bdbdc1"/>
<rect x="266.67" y="337.50" width="5.90" height="3.50" fill="#bdbdc1"/>
<rect x="273.76" y="337.50" width="5.90" height="3.50" fill="#bdbdc1"/>
<rect x="280.85" y="337.50" width="5.90" height="3.50" fill="#bdbdc1"/>
<rect x="287.94" y="337.50" width="5.90" height="3.50" fill="#bdbdc1"/>
<rect x="174.50" y="341.89" width="5.90" height="3.50" fill="#27a9e1"/>
<rect x="181.59" y="341.89" width="5.90" height="3.50" fill="#bdbdc1"/>
<rect x="188.68" y="341.89" width="5.90" height="3.50" fill="#bdbdc1"/>
<rect x="195.77" y="341.89" width="5.90" height="3.50" fill="#bdbdc1"/>
<rect x="202.86" y="341.89" width="5.90" height="3.50" fill="#bdbdc1"/>
<rect x="209.95" y="341.89" width="5.90" height="3.50" fill="#bdbdc1"/>
<rect x="217.04" y="341.89" width="5.90" height="3.50" fill="#27a9e1"/>
<rect x="224.13" y="341.89" width="5.90" height="3.50" fill="#bdbdc1"/>
<rect x="231.22" y="341.89" width="5.90" height="3.50" fill="#bdbdc1"/>
<rect x="238.31" y="341.89" width="5.90" height="3.50" fill="#bdbdc1"/>
<rect x="245.40" y="341.89" width="5.90" height="3.50" fill="#bdbdc1"/>
<rect x="252.49" y="341.89" width="5.90" height="3.50" fill="#bdbdc1"/>
<rect x="259.58" y="341.89" width="5.90" height="3.50" fill="#bdbdc1"/>
<rect x="266.67" y="341.89" width="5.90" height="3.50" fill="#bdbdc1"/>
<rect x="273.76" y="341.89" width="5.90" height="3.50" fill="#bdbdc1"/>
<rect x="280.85" y="341.89" width="5.90" height="3.50" fill="#bdbdc1"/>
<rect x="287.94" y="341.89" width="5.90" height="3.50" fill="#bdbdc1"/>
<rect x="174.50" y="346.28" width="5.90" height="3.50" fill="#bdbdc1"/>
<rect x="181.59" y="346.28" width="5.90" height="3.50" fill="#bdbdc1"/>
<rect x="188.68" y="346.28" width="5.90" height="3.50" fill="#bdbdc1"/>
<rect x="195.77" y="346.28" width="5.90" height="3.50" fill="#bdbdc1"/>
<rect x="202.86" y="346.28" width="5.90" height="3.50" fill="#bdbdc1"/>
<rect x="209.95" y="346.28" width="5.90" height="3.50" fill="#bdbdc1"/>
<rect x="217.04" y="346.28" width="5.90" height="3.50" fill="#bdbdc1"/>
<rect x="224.13" y="346.28" width="5.90" height="3.50" fill="#bdbdc1"/>
<rect x="231.22" y="346.28" width="5.90" height="3.50" fill="#bdbdc1"/>
<rect x="238.31" y="346.28" width="5.90" height="3.50" fill="#bdbdc1"/>
<rect x="245.40" y="346.28" width="5.90" height="3.50" fill="#bdbdc1"/>
<rect x="252.49" y="346.28" width="5.90" height="3.50" fill="#bdbdc1"/>
<rect x="259.58" y="346.28" width="5.90" height="3.50" fill="#bdbdc1"/>
<rect x="266.67" y="346.28" width="5.90" height="3.50" fill="#bdbdc1"/>
<rect x="273.76" y="346.28" width="5.90" height="3.50" fill="#bdbdc1"/>
<rect x="280.85" y="346.28" width="5.90" height="3.50" fill="#bdbdc1"/>
<rect x="287.94" y="346.28" width="5.90" height="3.50" fill="#bdbdc1"/>
<rect x="174.50" y="350.67" width="5.90" height="3.50" fill="#bdbdc1"/>
<rect x="181.59" y="350.67" width="5.90" height="3.50" fill="#bdbdc1"/>
<rect x="188.68" y="350.67" width="5.90" height="3.50" fill="#bdbdc1"/>
<rect x="195.77" y="350.67" width="5.90" height="3.50" fill="#bdbdc1"/>
<rect x="202.86" y="350.67" width="5.90" height="3.50" fill="#bdbdc1"/>
<rect x="209.95" y="350.67" width="5.90" height="3.50" fill="#bdbdc1"/>
<rect x="217.04" y="350.67" width="5.90" height="3.50" fill="#bdbdc1"/>
<rect x="224.13" y="350.67" width="5.90" height="3.50" fill="#bdbdc1"/>
<rect x="231.22" y="350.67" width="5.90" height="3.50" fill="#bdbdc1"/>
<rect x="238.31" y="350.67" width="5.90" height="3.50" fill="#bdbdc1"/>
<rect x="245.40" y="350.67" width="5.90" height="3.50" fill="#bdbdc1"/>
<rect x="252.49" y="350.67" width="5.90" height="3.50" fill="#bdbdc1"/>
<rect x="259.58" y="350.67" width="5.90" height="3.50" fill="#bdbdc1"/>
<rect x="266.67" y="350.67" width="5.90" height="3.50" fill="#bdbdc1"/>
<rect x="273.76" y="350.67" width="5.90" height="3.50" fill="#bdbdc1"/>
<rect x="280.85" y="350.67" width="5.90" height="3.50" fill="#bdbdc1"/>
<rect x="287.94" y="350.67" width="5.90" height="3.50" fill="#bdbdc1"/>
<rect x="174.50" y="355.06" width="5.90" height="3.50" fill="#bdbdc1"/>
<rect x="181.59" y="355.06" width="5.90" height="3.50" fill="#bdbdc1"/>
<rect x="188.68" y="355.06" width="5.90" height="3.50" fill="#bdbdc1"/>
<rect x="195.77" y="355.06" width="5.90" height="3.50" fill="#bdbdc1"/>
<rect x="202.86" y="355.06" width="5.90" height="3.50" fill="#bdbdc1"/>
<rect x="209.95" y="355.06" width="5.90" height="3.50" fill="#bdbdc1"/>
<rect x="217.04" y="355.06" width="5.90" height="3.50" fill="#bdbdc1"/>
<rect x="224.13" y="355.06" width="5.90" height="3.50" fill="#bdbdc1"/>
<rect x="231.22" y="355.06" width="5.90" height="3.50" fill="#bdbdc1"/>
<rect x="238.31" y="355.06" width="5.90" height="3.50" fill="#bdbdc1"/>
<rect x="245.40" y="355.06" width="5.90" height="3.50" fill="#bdbdc1"/>
<rect x="252.49" y="355.06" width="5.90" height="3.50" fill="#bdbdc1"/>
<rect x="259.58" y="355.06" width="5.90" height="3.50" fill="#bdbdc1"/>
<rect x="266.67" y="355.06" width="5.90" height="3.50" fill="#bdbdc1"/>
<rect x="273.76" y="355.06" width="5.90" height="3.50" fill="#bdbdc1"/>
<rect x="280.85" y="355.06" width="5.90" height="3.50" fill="#bdbdc1"/>
<rect x="287.94" y="355.06" width="5.90" height="3.50" fill="#bdbdc1"/>
<text x="38.70" y="236.65" font-size="5.2" text-anchor="end" fill="#555">Group</text>
<text x="38.70" y="241.05" font-size="5.2" text-anchor="end" fill="#555">COO</text>
<text x="38.70" y="245.45" font-size="5.2" text-anchor="end" fill="#555"><tspan font-style="italic">MYC</tspan> FISH</text>
<text x="38.70" y="249.85" font-size="5.2" text-anchor="end" fill="#555"><tspan font-style="italic">BCL2</tspan> FISH</text>
<text x="38.70" y="254.25" font-size="5.2" text-anchor="end" fill="#555"><tspan font-style="italic">BCL6</tspan> FISH</text>
<text x="38.70" y="258.65" font-size="5.2" text-anchor="end" fill="#555"><tspan font-style="italic">IRF4</tspan> FISH</text>
<text x="38.70" y="263.05" font-size="5.2" text-anchor="end" fill="#555">IGH FISH</text>
<text x="38.70" y="267.45" font-size="5.2" text-anchor="end" fill="#555">IGL FISH</text>
<text x="38.80" y="275.45" font-size="5.2" text-anchor="end" fill="#555" font-style="italic">IRF4</text>
<text x="38.80" y="279.84" font-size="5.2" text-anchor="end" fill="#555" font-style="italic">CARD11</text>
<text x="38.80" y="284.23" font-size="5.2" text-anchor="end" fill="#555" font-style="italic">PIM1</text>
<text x="38.80" y="288.62" font-size="5.2" text-anchor="end" fill="#555" font-style="italic">KMT2D</text>
<text x="38.80" y="293.01" font-size="5.2" text-anchor="end" fill="#555" font-style="italic">MYD88</text>
<text x="38.80" y="297.40" font-size="5.2" text-anchor="end" fill="#555" font-style="italic">CD79B</text>
<text x="38.80" y="301.79" font-size="5.2" text-anchor="end" fill="#555" font-style="italic">CCND3</text>
<text x="38.80" y="306.18" font-size="5.2" text-anchor="end" fill="#555" font-style="italic">HIST1H1E</text>
<text x="38.80" y="310.57" font-size="5.2" text-anchor="end" fill="#555" font-style="italic">TET2</text>
<text x="38.80" y="314.96" font-size="5.2" text-anchor="end" fill="#555" font-style="italic">BTG2</text>
<text x="38.80" y="319.35" font-size="5.2" text-anchor="end" fill="#555" font-style="italic">SGK1</text>
<text x="38.80" y="323.74" font-size="5.2" text-anchor="end" fill="#555" font-style="italic">ACTB</text>
<text x="38.80" y="328.13" font-size="5.2" text-anchor="end" fill="#555" font-style="italic">BCL10</text>
<text x="38.80" y="332.52" font-size="5.2" text-anchor="end" fill="#555" font-style="italic">MAP2K1</text>
<text x="38.80" y="336.91" font-size="5.2" text-anchor="end" fill="#555" font-style="italic">ATM</text>
<text x="38.80" y="341.30" font-size="5.2" text-anchor="end" fill="#555" font-style="italic">PRDM1</text>
<text x="38.80" y="345.69" font-size="5.2" text-anchor="end" fill="#555" font-style="italic">BRAF</text>
<text x="38.80" y="350.08" font-size="5.2" text-anchor="end" fill="#555" font-style="italic">BTG1</text>
<text x="38.80" y="354.47" font-size="5.2" text-anchor="end" fill="#555" font-style="italic">CREBBP</text>
<text x="38.80" y="358.86" font-size="5.2" text-anchor="end" fill="#555" font-style="italic">ETV6</text>
<text x="45.50" y="362.40" font-size="6.5" text-anchor="end" fill="#222" transform="rotate(-90 45.50 362.40)">11</text>
<text x="52.65" y="362.40" font-size="6.5" text-anchor="end" fill="#222" transform="rotate(-90 52.65 362.40)">74</text>
<text x="59.80" y="362.40" font-size="6.5" text-anchor="end" fill="#222" transform="rotate(-90 59.80 362.40)">70</text>
<text x="66.95" y="362.40" font-size="6.5" text-anchor="end" fill="#222" transform="rotate(-90 66.95 362.40)">16</text>
<text x="74.10" y="362.40" font-size="6.5" text-anchor="end" fill="#222" transform="rotate(-90 74.10 362.40)">38</text>
<text x="81.25" y="362.40" font-size="6.5" text-anchor="end" fill="#222" transform="rotate(-90 81.25 362.40)">2</text>
<text x="88.40" y="362.40" font-size="6.5" text-anchor="end" fill="#222" transform="rotate(-90 88.40 362.40)">31</text>
<text x="95.55" y="362.40" font-size="6.5" text-anchor="end" fill="#222" transform="rotate(-90 95.55 362.40)">71</text>
<text x="102.70" y="362.40" font-size="6.5" text-anchor="end" fill="#222" transform="rotate(-90 102.70 362.40)">10</text>
<text x="109.85" y="362.40" font-size="6.5" text-anchor="end" fill="#222" transform="rotate(-90 109.85 362.40)">5</text>
<text x="117.00" y="362.40" font-size="6.5" text-anchor="end" fill="#222" transform="rotate(-90 117.00 362.40)">44</text>
<text x="179.45" y="362.00" font-size="6.2" text-anchor="end" fill="#222" transform="rotate(-90 179.45 362.00)">D48</text>
<text x="186.54" y="362.00" font-size="6.2" text-anchor="end" fill="#222" transform="rotate(-90 186.54 362.00)">D20</text>
<text x="193.63" y="362.00" font-size="6.2" text-anchor="end" fill="#222" transform="rotate(-90 193.63 362.00)">D31</text>
<text x="200.72" y="362.00" font-size="6.2" text-anchor="end" fill="#222" transform="rotate(-90 200.72 362.00)">D17</text>
<text x="207.81" y="362.00" font-size="6.2" text-anchor="end" fill="#222" transform="rotate(-90 207.81 362.00)">D46</text>
<text x="214.90" y="362.00" font-size="6.2" text-anchor="end" fill="#222" transform="rotate(-90 214.90 362.00)">D23</text>
<text x="221.99" y="362.00" font-size="6.2" text-anchor="end" fill="#222" transform="rotate(-90 221.99 362.00)">D54</text>
<text x="229.08" y="362.00" font-size="6.2" text-anchor="end" fill="#222" transform="rotate(-90 229.08 362.00)">D63</text>
<text x="236.17" y="362.00" font-size="6.2" text-anchor="end" fill="#222" transform="rotate(-90 236.17 362.00)">D15</text>
<text x="243.26" y="362.00" font-size="6.2" text-anchor="end" fill="#222" transform="rotate(-90 243.26 362.00)">D62</text>
<text x="250.35" y="362.00" font-size="6.2" text-anchor="end" fill="#222" transform="rotate(-90 250.35 362.00)">D35</text>
<text x="257.44" y="362.00" font-size="6.2" text-anchor="end" fill="#222" transform="rotate(-90 257.44 362.00)">D51</text>
<text x="264.53" y="362.00" font-size="6.2" text-anchor="end" fill="#222" transform="rotate(-90 264.53 362.00)">D32</text>
<text x="271.62" y="362.00" font-size="6.2" text-anchor="end" fill="#222" transform="rotate(-90 271.62 362.00)">D2</text>
<text x="278.71" y="362.00" font-size="6.2" text-anchor="end" fill="#222" transform="rotate(-90 278.71 362.00)">D50</text>
<text x="285.80" y="362.00" font-size="6.2" text-anchor="end" fill="#222" transform="rotate(-90 285.80 362.00)">D21</text>
<text x="292.89" y="362.00" font-size="6.2" text-anchor="end" fill="#222" transform="rotate(-90 292.89 362.00)">D69</text>
<rect x="128.70" y="233.80" width="13.80" height="2.00" fill="#6b41a3"/>
<rect x="142.50" y="233.80" width="21.20" height="2.00" fill="#33ae48"/>
<rect x="130.00" y="238.30" width="6.00" height="2.20" fill="#fdb813"/>
<rect x="136.00" y="238.30" width="6.50" height="2.20" fill="#0f4482"/>
<rect x="142.50" y="238.30" width="3.00" height="2.20" fill="#ab3fa1"/>
<rect x="145.50" y="238.30" width="1.90" height="2.20" fill="#0f4482"/>
<rect x="147.40" y="238.30" width="12.70" height="2.20" fill="#fdb813"/>
<rect x="128.70" y="242.80" width="28.60" height="2.20" fill="#bdbdc1"/>
<rect x="128.70" y="247.20" width="26.00" height="2.20" fill="#bdbdc1"/>
<rect x="128.70" y="251.50" width="27.50" height="2.20" fill="#bdbdc1"/>
<rect x="128.70" y="255.60" width="2.30" height="2.20" fill="#bdbdc1"/>
<rect x="131.00" y="255.60" width="30.10" height="2.20" fill="#27a9e1"/>
<rect x="161.10" y="255.60" width="2.60" height="2.20" fill="#bdbdc1"/>
<rect x="128.70" y="260.10" width="7.30" height="2.20" fill="#bdbdc1"/>
<rect x="136.00" y="260.10" width="12.70" height="2.20" fill="#27a9e1"/>
<rect x="135.00" y="264.60" width="1.00" height="2.20" fill="#bdbdc1"/>
<rect x="136.00" y="264.60" width="6.50" height="2.20" fill="#27a9e1"/>
<rect x="128.75" y="272.25" width="35.00" height="2.20" fill="#bdbdc1"/>
<rect x="132.50" y="272.25" width="10.00" height="2.20" fill="#27a9e1"/>
<rect x="142.50" y="272.25" width="16.25" height="2.20" fill="#27a9e1"/>
<rect x="137.50" y="272.25" width="5.00" height="2.20" fill="#0c3f75"/>
<rect x="142.50" y="272.25" width="12.50" height="2.20" fill="#0c3f75"/>
<rect x="128.75" y="276.64" width="35.00" height="2.20" fill="#bdbdc1"/>
<rect x="137.50" y="276.64" width="5.00" height="2.20" fill="#27a9e1"/>
<rect x="142.50" y="276.64" width="7.50" height="2.20" fill="#27a9e1"/>
<rect x="128.75" y="281.03" width="35.00" height="2.20" fill="#bdbdc1"/>
<rect x="136.25" y="281.03" width="6.25" height="2.20" fill="#27a9e1"/>
<rect x="142.50" y="281.03" width="3.75" height="2.20" fill="#27a9e1"/>
<rect x="137.50" y="281.03" width="5.00" height="2.20" fill="#0c3f75"/>
<rect x="142.50" y="281.03" width="2.50" height="2.20" fill="#0c3f75"/>
<rect x="131.25" y="285.42" width="32.50" height="2.20" fill="#bdbdc1"/>
<rect x="135.00" y="285.42" width="7.50" height="2.20" fill="#27a9e1"/>
<rect x="142.50" y="285.42" width="1.25" height="2.20" fill="#27a9e1"/>
<rect x="128.75" y="289.81" width="35.00" height="2.20" fill="#bdbdc1"/>
<rect x="136.25" y="289.81" width="6.25" height="2.20" fill="#27a9e1"/>
<rect x="142.50" y="289.81" width="1.25" height="2.20" fill="#27a9e1"/>
<rect x="128.75" y="294.20" width="35.00" height="2.20" fill="#bdbdc1"/>
<rect x="138.75" y="294.20" width="3.75" height="2.20" fill="#27a9e1"/>
<rect x="142.50" y="294.20" width="2.50" height="2.20" fill="#27a9e1"/>
<rect x="131.25" y="298.59" width="32.50" height="2.20" fill="#bdbdc1"/>
<rect x="141.25" y="298.59" width="1.25" height="2.20" fill="#27a9e1"/>
<rect x="142.50" y="298.59" width="5.00" height="2.20" fill="#27a9e1"/>
<rect x="131.25" y="302.98" width="32.50" height="2.20" fill="#bdbdc1"/>
<rect x="140.00" y="302.98" width="2.50" height="2.20" fill="#27a9e1"/>
<rect x="142.50" y="302.98" width="2.50" height="2.20" fill="#27a9e1"/>
<rect x="141.25" y="302.98" width="1.25" height="2.20" fill="#0c3f75"/>
<rect x="131.25" y="307.37" width="32.50" height="2.20" fill="#bdbdc1"/>
<rect x="138.75" y="307.37" width="3.75" height="2.20" fill="#27a9e1"/>
<rect x="142.50" y="307.37" width="1.25" height="2.20" fill="#27a9e1"/>
<rect x="131.25" y="311.76" width="32.50" height="2.20" fill="#bdbdc1"/>
<rect x="138.75" y="311.76" width="3.75" height="2.20" fill="#27a9e1"/>
<rect x="131.25" y="316.15" width="32.50" height="2.20" fill="#bdbdc1"/>
<rect x="142.50" y="316.15" width="3.75" height="2.20" fill="#27a9e1"/>
<rect x="142.50" y="316.15" width="1.25" height="2.20" fill="#0c3f75"/>
<rect x="131.25" y="320.54" width="32.50" height="2.20" fill="#bdbdc1"/>
<rect x="141.25" y="320.54" width="1.25" height="2.20" fill="#27a9e1"/>
<rect x="142.50" y="320.54" width="2.50" height="2.20" fill="#27a9e1"/>
<rect x="131.25" y="324.93" width="32.50" height="2.20" fill="#bdbdc1"/>
<rect x="141.25" y="324.93" width="1.25" height="2.20" fill="#27a9e1"/>
<rect x="142.50" y="324.93" width="2.50" height="2.20" fill="#27a9e1"/>
<rect x="131.25" y="329.32" width="32.50" height="2.20" fill="#bdbdc1"/>
<rect x="141.25" y="329.32" width="1.25" height="2.20" fill="#27a9e1"/>
<rect x="142.50" y="329.32" width="2.50" height="2.20" fill="#27a9e1"/>
<rect x="131.25" y="333.71" width="32.50" height="2.20" fill="#bdbdc1"/>
<rect x="140.00" y="333.71" width="2.50" height="2.20" fill="#27a9e1"/>
<rect x="142.50" y="333.71" width="1.25" height="2.20" fill="#27a9e1"/>
<rect x="128.75" y="338.10" width="35.00" height="2.20" fill="#bdbdc1"/>
<rect x="140.00" y="338.10" width="2.50" height="2.20" fill="#27a9e1"/>
<rect x="131.25" y="342.49" width="32.50" height="2.20" fill="#bdbdc1"/>
<rect x="142.50" y="342.49" width="2.50" height="2.20" fill="#27a9e1"/>
<rect x="131.25" y="346.88" width="32.50" height="2.20" fill="#bdbdc1"/>
<rect x="140.00" y="346.88" width="2.50" height="2.20" fill="#27a9e1"/>
<rect x="141.25" y="346.88" width="1.25" height="2.20" fill="#0c3f75"/>
<rect x="131.25" y="351.27" width="32.50" height="2.20" fill="#bdbdc1"/>
<rect x="140.00" y="351.27" width="2.50" height="2.20" fill="#27a9e1"/>
<rect x="131.25" y="355.66" width="32.50" height="2.20" fill="#bdbdc1"/>
<rect x="140.00" y="355.66" width="2.50" height="2.20" fill="#27a9e1"/>
<line x1="142.50" y1="232.40" x2="142.50" y2="364.00" stroke="#111" stroke-width="1.0"/>
<line x1="128.50" y1="360.30" x2="163.80" y2="360.30" stroke="#111" stroke-width="1.0"/>
<line x1="129.00" y1="360.30" x2="129.00" y2="362.60" stroke="#111" stroke-width="1.0"/>
<line x1="163.30" y1="360.30" x2="163.30" y2="362.60" stroke="#111" stroke-width="1.0"/>
<text x="129.00" y="370.60" font-size="5.5" text-anchor="middle">11</text>
<text x="164.10" y="370.60" font-size="5.5" text-anchor="middle">17</text>
<text x="147.50" y="381.70" font-size="6.3" text-anchor="middle" textLength="33" lengthAdjust="spacingAndGlyphs">Frequency (n)</text>
<text x="168.20" y="289.00" font-size="5" text-anchor="middle">**</text>
<text x="168.20" y="293.50" font-size="5" text-anchor="middle">**</text>
<text x="168.20" y="315.30" font-size="5" text-anchor="middle">**</text>
<rect x="302.90" y="266.10" width="4.00" height="4.00" fill="#5d3a9b"/>
<g transform="translate(309.90 270.40) scale(0.93 1) translate(-309.90 -270.40)"><text x="309.90" y="270.40" font-size="6.6">DBCL-<tspan font-style="italic">IRF4</tspan> (n=11)</text></g>
<rect x="302.90" y="274.20" width="4.00" height="4.00" fill="#36ad4a"/>
<g transform="translate(309.90 278.50) scale(0.93 1) translate(-309.90 -278.50)"><text x="309.90" y="278.50" font-size="6.6">Pediatric LBCL-<tspan font-style="italic">IRF4</tspan> (n=17)</text></g>
<g transform="translate(301.30 300.50) scale(0.95 1) translate(-301.30 -300.50)"><text x="301.30" y="300.50" font-size="7.0">COO</text></g>
<rect x="302.90" y="303.60" width="4.00" height="4.00" fill="#fbb518"/>
<g transform="translate(309.90 307.70) scale(0.93 1) translate(-309.90 -307.70)"><text x="309.90" y="307.70" font-size="6.6">GCB</text></g>
<rect x="302.90" y="311.00" width="4.00" height="4.00" fill="#b04da2"/>
<g transform="translate(309.90 315.10) scale(0.93 1) translate(-309.90 -315.10)"><text x="309.90" y="315.10" font-size="6.6">UNC</text></g>
<rect x="302.90" y="318.60" width="4.00" height="4.00" fill="#2c3f99"/>
<g transform="translate(309.90 322.60) scale(0.93 1) translate(-309.90 -322.60)"><text x="309.90" y="322.60" font-size="6.6">ABC</text></g>
<rect x="302.90" y="336.90" width="3.80" height="3.80" fill="#0e4780"/>
<g transform="translate(309.80 341.00) scale(0.93 1) translate(-309.80 -341.00)"><text x="309.80" y="341.00" font-size="6.6">Mutated (&gt;2 mutations;</text></g>
<g transform="translate(309.80 349.30) scale(0.93 1) translate(-309.80 -349.30)"><text x="309.80" y="349.30" font-size="6.6">including passengers)</text></g>
<rect x="302.90" y="355.40" width="3.80" height="3.80" fill="#27a9e1"/>
<g transform="translate(309.80 359.40) scale(0.93 1) translate(-309.80 -359.40)"><text x="309.80" y="359.40" font-size="6.6">Mutated</text></g>
<text x="329.00" y="81.80" font-size="10.8" fill="#000" font-weight="bold">C</text>
<line x1="352.60" y1="84.90" x2="352.60" y2="211.30" stroke="#222" stroke-width="1.1"/>
<line x1="352.00" y1="210.70" x2="454.00" y2="210.70" stroke="#333" stroke-width="1.4"/>
<line x1="349.40" y1="173.70" x2="352.60" y2="173.70" stroke="#222" stroke-width="1.0"/>
<text x="346.90" y="176.05" font-size="6.6" text-anchor="end" fill="#444">10000</text>
<line x1="349.40" y1="136.60" x2="352.60" y2="136.60" stroke="#222" stroke-width="1.0"/>
<text x="346.90" y="138.95" font-size="6.6" text-anchor="end" fill="#444">20000</text>
<line x1="349.40" y1="99.50" x2="352.60" y2="99.50" stroke="#222" stroke-width="1.0"/>
<text x="346.90" y="101.85" font-size="6.6" text-anchor="end" fill="#444">30000</text>
<text x="323.40" y="147.35" font-size="6.7" text-anchor="middle" textLength="61.5" lengthAdjust="spacingAndGlyphs" transform="rotate(-90 323.40 147.35)"><tspan font-style="italic">IRF4</tspan> mRNA levels (counts)</text>
<g transform="translate(368.50 218.80) scale(0.93 1) translate(-368.50 -218.80)"><text x="368.50" y="218.80" font-size="6.5" text-anchor="middle">DLBCL-<tspan font-style="italic">IRF4</tspan></text></g>
<g transform="translate(368.50 226.20) scale(0.93 1) translate(-368.50 -226.20)"><text x="368.50" y="226.20" font-size="6.5" text-anchor="middle">(n=10)</text></g>
<g transform="translate(368.50 233.00) scale(0.93 1) translate(-368.50 -233.00)"><text x="368.50" y="233.00" font-size="6.5" text-anchor="middle">adults</text></g>
<g transform="translate(407.60 218.80) scale(0.93 1) translate(-407.60 -218.80)"><text x="407.60" y="218.80" font-size="6.5" text-anchor="middle">LBCL-<tspan font-style="italic">IRF4</tspan></text></g>
<g transform="translate(407.60 226.20) scale(0.93 1) translate(-407.60 -226.20)"><text x="407.60" y="226.20" font-size="6.5" text-anchor="middle">(n=10)</text></g>
<g transform="translate(407.60 233.00) scale(0.93 1) translate(-407.60 -233.00)"><text x="407.60" y="233.00" font-size="6.5" text-anchor="middle">pediatric</text></g>
<g transform="translate(445.50 218.80) scale(0.93 1) translate(-445.50 -218.80)"><text x="445.50" y="218.80" font-size="6.5" text-anchor="middle">AE-<tspan font-style="italic">IRF4</tspan>-wt</text></g>
<g transform="translate(445.50 226.20) scale(0.93 1) translate(-445.50 -226.20)"><text x="445.50" y="226.20" font-size="6.5" text-anchor="middle">(n=33)</text></g>
<g transform="translate(445.50 233.00) scale(0.93 1) translate(-445.50 -233.00)"><text x="445.50" y="233.00" font-size="6.5" text-anchor="middle">adults</text></g>
<line x1="371.45" y1="101.90" x2="371.45" y2="135.30" stroke="#222" stroke-width="1.0"/>
<line x1="371.45" y1="166.80" x2="371.45" y2="177.60" stroke="#222" stroke-width="1.0"/>
<rect x="359.60" y="135.30" width="23.70" height="31.50" fill="none" stroke="#222" stroke-width="1.0"/>
<line x1="359.60" y1="147.50" x2="383.30" y2="147.50" stroke="#222" stroke-width="1.0"/>
<line x1="403.40" y1="135.30" x2="403.40" y2="135.30" stroke="#222" stroke-width="1.0"/>
<line x1="403.40" y1="152.20" x2="403.40" y2="174.60" stroke="#222" stroke-width="1.0"/>
<rect x="391.40" y="135.30" width="24.00" height="16.90" fill="none" stroke="#222" stroke-width="1.0"/>
<line x1="391.40" y1="139.10" x2="415.40" y2="139.10" stroke="#222" stroke-width="1.0"/>
<line x1="435.05" y1="156.30" x2="435.05" y2="180.20" stroke="#222" stroke-width="1.0"/>
<line x1="435.05" y1="198.00" x2="435.05" y2="198.00" stroke="#222" stroke-width="1.0"/>
<rect x="423.20" y="180.20" width="23.70" height="17.80" fill="none" stroke="#222" stroke-width="1.0"/>
<line x1="423.20" y1="190.20" x2="446.90" y2="190.20" stroke="#222" stroke-width="1.0"/>
<circle cx="373.40" cy="100.30" r="1.6" fill="#ecc8e0"/>
<circle cx="376.60" cy="109.80" r="1.6" fill="#a93aa4"/>
<circle cx="366.20" cy="133.40" r="1.6" fill="#a93aa4"/>
<circle cx="379.30" cy="140.90" r="1.6" fill="#c58ccf"/>
<circle cx="378.40" cy="145.10" r="1.6" fill="#6a2f98"/>
<circle cx="377.90" cy="149.40" r="1.6" fill="#ecc8e0"/>
<circle cx="374.40" cy="155.50" r="1.6" fill="#a93aa4"/>
<circle cx="373.50" cy="171.20" r="1.6" fill="#a93aa4"/>
<circle cx="368.10" cy="173.70" r="1.6" fill="#3b3aa0"/>
<circle cx="377.00" cy="177.70" r="1.6" fill="#a93aa4"/>
<circle cx="403.30" cy="90.90" r="1.6" fill="#0e5f45"/>
<circle cx="409.80" cy="91.60" r="1.6" fill="#0e5f45"/>
<circle cx="405.20" cy="134.80" r="1.6" fill="#0e5f45"/>
<circle cx="408.20" cy="136.30" r="1.6" fill="#0e5f45"/>
<circle cx="408.80" cy="138.50" r="1.6" fill="#0e5f45"/>
<circle cx="396.60" cy="140.60" r="1.6" fill="#3ab54a"/>
<circle cx="403.30" cy="141.10" r="1.6" fill="#0e5f45"/>
<circle cx="405.80" cy="156.00" r="1.6" fill="#0e5f45"/>
<circle cx="404.10" cy="156.40" r="1.6" fill="#0e5f45"/>
<circle cx="402.20" cy="174.50" r="1.6" fill="#0e5f45"/>
<circle cx="429.40" cy="156.20" r="1.6" fill="#bdbdbd"/>
<circle cx="437.20" cy="161.30" r="1.6" fill="#bdbdbd"/>
<circle cx="440.30" cy="167.30" r="1.6" fill="#bdbdbd"/>
<circle cx="430.80" cy="170.60" r="1.6" fill="#bdbdbd"/>
<circle cx="439.80" cy="170.80" r="1.6" fill="#bdbdbd"/>
<circle cx="432.00" cy="180.20" r="1.6" fill="#bdbdbd"/>
<circle cx="435.70" cy="183.50" r="1.6" fill="#bdbdbd"/>
<circle cx="441.70" cy="183.20" r="1.6" fill="#bdbdbd"/>
<circle cx="431.50" cy="188.00" r="1.6" fill="#bdbdbd"/>
<circle cx="435.00" cy="189.50" r="1.6" fill="#bdbdbd"/>
<circle cx="438.90" cy="189.90" r="1.6" fill="#bdbdbd"/>
<circle cx="429.70" cy="195.00" r="1.6" fill="#bdbdbd"/>
<circle cx="436.90" cy="194.50" r="1.6" fill="#bdbdbd"/>
<circle cx="441.30" cy="195.80" r="1.6" fill="#bdbdbd"/>
<circle cx="437.20" cy="199.00" r="1.6" fill="#bdbdbd"/>
<circle cx="440.40" cy="201.20" r="1.6" fill="#bdbdbd"/>
<circle cx="430.00" cy="204.00" r="1.6" fill="#bdbdbd"/>
<circle cx="432.50" cy="203.20" r="1.6" fill="#bdbdbd"/>
<circle cx="428.00" cy="203.40" r="1.6" fill="#bdbdbd"/>
<circle cx="441.00" cy="201.00" r="1.6" fill="#bdbdbd"/>
<circle cx="443.00" cy="197.00" r="1.6" fill="#bdbdbd"/>
<circle cx="429.50" cy="205.50" r="1.6" fill="#bdbdbd"/>
<circle cx="434.00" cy="201.50" r="1.6" fill="#bdbdbd"/>
<circle cx="436.00" cy="186.50" r="1.6" fill="#bdbdbd"/>
<circle cx="433.50" cy="190.50" r="1.6" fill="#bdbdbd"/>
<circle cx="427.50" cy="206.50" r="1.6" fill="#bdbdbd"/>
<circle cx="438.50" cy="204.50" r="1.6" fill="#bdbdbd"/>
<circle cx="429.40" cy="185.90" r="1.6" fill="#d01c2c"/>
<circle cx="429.20" cy="189.40" r="1.6" fill="#d01c2c"/>
<circle cx="433.10" cy="197.80" r="1.6" fill="#d01c2c"/>
<circle cx="439.00" cy="167.50" r="1.6" fill="#d01c2c"/>
<circle cx="440.60" cy="167.30" r="1.6" fill="#bdbdbd"/>
<circle cx="427.80" cy="204.20" r="1.6" fill="#bdbdbd"/>
<circle cx="429.20" cy="202.60" r="1.6" fill="#bdbdbd"/>
<circle cx="431.20" cy="201.80" r="1.6" fill="#bdbdbd"/>
<circle cx="428.60" cy="205.60" r="1.6" fill="#bdbdbd"/>
<circle cx="430.60" cy="206.00" r="1.6" fill="#bdbdbd"/>
<circle cx="432.60" cy="204.40" r="1.6" fill="#bdbdbd"/>
<circle cx="434.20" cy="202.80" r="1.6" fill="#bdbdbd"/>
<circle cx="436.20" cy="201.40" r="1.6" fill="#bdbdbd"/>
<g transform="translate(428.70 21.60) scale(0.93 1) translate(-428.70 -21.60)"><text x="428.70" y="21.60" font-size="6.6">Genetic events</text></g>
<g transform="translate(431.60 30.60) scale(0.93 1) translate(-431.60 -30.60)"><text x="431.60" y="30.60" font-size="6.6">DBCL-<tspan font-style="italic">IRF4</tspan></text></g>
<circle cx="433.50" cy="36.10" r="1.75" fill="#3b3aa0"/>
<g transform="translate(438.00 37.60) scale(0.93 1) translate(-438.00 -37.60)"><text x="438.00" y="37.60" font-size="6.6"><tspan font-style="italic">IRF4-BCL2-BCL6</tspan>-R (26)</text></g>
<circle cx="433.50" cy="42.40" r="1.75" fill="#6a2f98"/>
<g transform="translate(438.00 43.90) scale(0.93 1) translate(-438.00 -43.90)"><text x="438.00" y="43.90" font-size="6.6"><tspan font-style="italic">IRF4-BCL2</tspan>-R (25)</text></g>
<circle cx="433.50" cy="48.70" r="1.75" fill="#a93aa4"/>
<g transform="translate(438.00 50.20) scale(0.93 1) translate(-438.00 -50.20)"><text x="438.00" y="50.20" font-size="6.6"><tspan font-style="italic">IRF4</tspan>-R</text></g>
<circle cx="433.50" cy="55.00" r="1.75" fill="#c58ccf"/>
<g transform="translate(438.00 56.50) scale(0.93 1) translate(-438.00 -56.50)"><text x="438.00" y="56.50" font-size="6.6"><tspan font-style="italic">IRF4</tspan>-R light chain-R (5)</text></g>
<circle cx="433.50" cy="61.30" r="1.75" fill="#ecc8e0"/>
<g transform="translate(438.00 62.80) scale(0.93 1) translate(-438.00 -62.80)"><text x="438.00" y="62.80" font-size="6.6"><tspan font-style="italic">IRF4</tspan>-wt light chain-R (2, 38)</text></g>
<g transform="translate(431.40 75.70) scale(0.93 1) translate(-431.40 -75.70)"><text x="431.40" y="75.70" font-size="6.6">Pediatric LBCL-<tspan font-style="italic">IRF4</tspan></text></g>
<circle cx="433.00" cy="81.30" r="1.75" fill="#0e5f45"/>
<g transform="translate(437.90 83.10) scale(0.93 1) translate(-437.90 -83.10)"><text x="437.90" y="83.10" font-size="6.6"><tspan font-style="italic">IRF4</tspan>-R</text></g>
<circle cx="433.00" cy="87.60" r="1.75" fill="#3ab54a"/>
<g transform="translate(437.90 89.50) scale(0.93 1) translate(-437.90 -89.50)"><text x="437.90" y="89.50" font-size="6.6"><tspan font-style="italic">IRF4</tspan>-wt IGH-R</text></g>
<g transform="translate(431.40 101.40) scale(0.93 1) translate(-431.40 -101.40)"><text x="431.40" y="101.40" font-size="6.6">AE <tspan font-style="italic">IRF4</tspan>-wt</text></g>
<circle cx="433.00" cy="106.90" r="1.75" fill="#bdbdbd"/>
<g transform="translate(437.90 108.80) scale(0.93 1) translate(-437.90 -108.80)"><text x="437.90" y="108.80" font-size="6.6"><tspan font-style="italic">IRF4</tspan>-wt</text></g>
<circle cx="433.00" cy="113.30" r="1.75" fill="#d01c2c"/>
<g transform="translate(437.90 115.10) scale(0.93 1) translate(-437.90 -115.10)"><text x="437.90" y="115.10" font-size="6.6"><tspan font-style="italic">IRF4</tspan>-wt IGH-R</text></g>
<rect x="0.5" y="0.5" width="519" height="388" fill="none" stroke="#000" stroke-width="1"/>
</svg>
</body></html>
